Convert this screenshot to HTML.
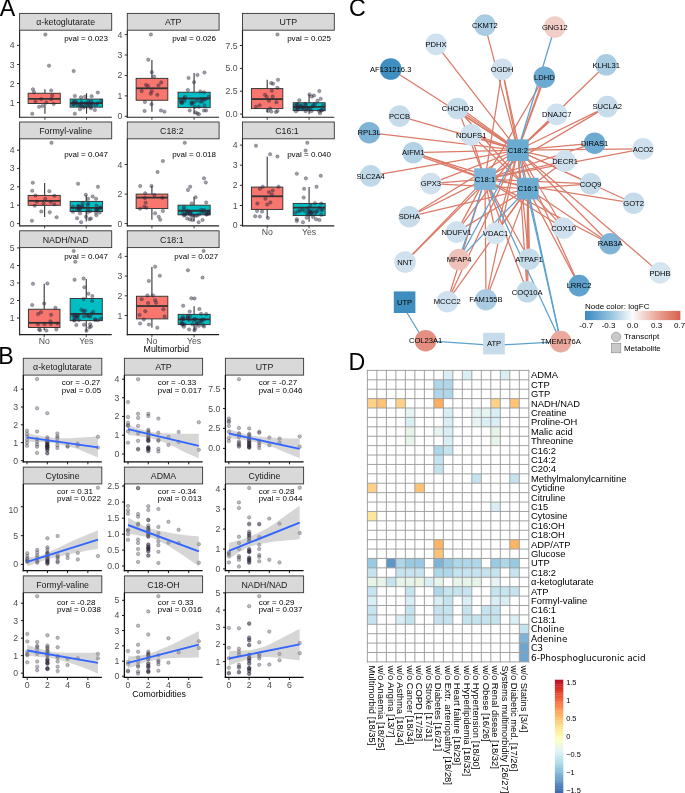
<!DOCTYPE html>
<html lang="en"><head><meta charset="utf-8"><title>Figure</title>
<style>html,body{margin:0;padding:0;background:#fff}svg{display:block}svg text{font-family:"Liberation Sans", Arial, Helvetica, sans-serif}svg .dj,svg .dj text{font-family:"DejaVu Sans","Liberation Sans",sans-serif}</style></head><body>
<svg width="685" height="793" viewBox="0 0 685 793">
<rect x="0" y="0" width="685" height="793" fill="#ffffff" stroke="none" stroke-width="1"/>
<line x1="44.93" y1="89.31" x2="44.93" y2="93.26" stroke="#333" stroke-width="1.1"/>
<line x1="44.93" y1="103.47" x2="44.93" y2="113.69" stroke="#333" stroke-width="1.1"/>
<rect x="28.14" y="93.26" width="32.12" height="10.22" fill="#F8766D" stroke="#333" stroke-width="0.95"/>
<line x1="28.14" y1="98.8" x2="60.26" y2="98.8" stroke="#333" stroke-width="1.8"/>
<line x1="86.53" y1="93.26" x2="86.53" y2="99.09" stroke="#333" stroke-width="1.1"/>
<line x1="86.53" y1="107.12" x2="86.53" y2="113.69" stroke="#333" stroke-width="1.1"/>
<rect x="70.18" y="99.09" width="32.41" height="8.03" fill="#00BFC4" stroke="#333" stroke-width="0.95"/>
<line x1="70.18" y1="103.18" x2="102.59" y2="103.18" stroke="#333" stroke-width="1.8"/>
<g fill="#2b2339" fill-opacity="0.45" stroke="#2b2339" stroke-opacity="0.55" stroke-width="0.45">
<circle cx="45.36" cy="34.57" r="1.75"/>
<circle cx="49.01" cy="65.66" r="1.75"/>
<circle cx="32.96" cy="89.31" r="1.75"/>
<circle cx="33.98" cy="92.23" r="1.75"/>
<circle cx="51.2" cy="90.48" r="1.75"/>
<circle cx="52.23" cy="95.45" r="1.75"/>
<circle cx="41.28" cy="99.09" r="1.75"/>
<circle cx="51.2" cy="99.09" r="1.75"/>
<circle cx="35.44" cy="101.72" r="1.75"/>
<circle cx="46.39" cy="102.45" r="1.75"/>
<circle cx="53.69" cy="103.91" r="1.75"/>
<circle cx="39.09" cy="106.83" r="1.75"/>
<circle cx="42.45" cy="106.1" r="1.75"/>
<circle cx="32.23" cy="113.69" r="1.75"/>
<circle cx="73.69" cy="71.07" r="1.75"/>
<circle cx="97.77" cy="92.53" r="1.75"/>
<circle cx="74.85" cy="95.88" r="1.75"/>
<circle cx="91.64" cy="96.18" r="1.75"/>
<circle cx="80.99" cy="97.34" r="1.75"/>
<circle cx="85.07" cy="96.61" r="1.75"/>
<circle cx="74.85" cy="113.69" r="1.75"/>
<circle cx="79.96" cy="109.31" r="1.75"/>
<circle cx="94.85" cy="110.04" r="1.75"/>
<circle cx="83.61" cy="107.56" r="1.75"/>
<circle cx="90.91" cy="108.29" r="1.75"/>
<circle cx="81.63" cy="102.23" r="1.75"/>
<circle cx="91.41" cy="101.4" r="1.75"/>
<circle cx="87.97" cy="103.73" r="1.75"/>
<circle cx="73.67" cy="104.48" r="1.75"/>
<circle cx="73.06" cy="104.11" r="1.75"/>
<circle cx="74.02" cy="101.62" r="1.75"/>
<circle cx="84.64" cy="105.98" r="1.75"/>
<circle cx="75.64" cy="102.81" r="1.75"/>
<circle cx="90.71" cy="106.89" r="1.75"/>
<circle cx="89.21" cy="103.91" r="1.75"/>
<circle cx="101.15" cy="101.03" r="1.75"/>
<circle cx="97.63" cy="103.27" r="1.75"/>
<circle cx="76.25" cy="101.92" r="1.75"/>
<circle cx="81.17" cy="105.92" r="1.75"/>
<circle cx="77.34" cy="104.83" r="1.75"/>
<circle cx="91.06" cy="103.77" r="1.75"/>
<circle cx="88.33" cy="101.27" r="1.75"/>
<circle cx="73.72" cy="102.68" r="1.75"/>
<circle cx="92.3" cy="104.07" r="1.75"/>
<circle cx="81.34" cy="104.85" r="1.75"/>
<circle cx="85.5" cy="103.33" r="1.75"/>
<circle cx="95.71" cy="105.34" r="1.75"/>
<circle cx="79.24" cy="104.8" r="1.75"/>
<circle cx="87.65" cy="106.29" r="1.75"/>
</g>
<rect x="19.6" y="13.4" width="92.1" height="16.8" fill="#d9d9d9" stroke="#333333" stroke-width="0.9"/>
<text x="65.65" y="25.47" font-size="8.8" fill="#1a1a1a" text-anchor="middle">α-ketoglutarate</text>
<line x1="19.6" y1="30.2" x2="19.6" y2="117.75" stroke="#222" stroke-width="1.15"/>
<line x1="19.05" y1="117.2" x2="111.7" y2="117.2" stroke="#222" stroke-width="1.15"/>
<line x1="17" y1="45.4" x2="19.6" y2="45.4" stroke="#2b2b2b" stroke-width="0.95"/>
<text x="14.7" y="48.4" font-size="8.7" fill="#4d4d4d" text-anchor="end">4</text>
<line x1="17" y1="64.5" x2="19.6" y2="64.5" stroke="#2b2b2b" stroke-width="0.95"/>
<text x="14.7" y="67.5" font-size="8.7" fill="#4d4d4d" text-anchor="end">3</text>
<line x1="17" y1="83.5" x2="19.6" y2="83.5" stroke="#2b2b2b" stroke-width="0.95"/>
<text x="14.7" y="86.5" font-size="8.7" fill="#4d4d4d" text-anchor="end">2</text>
<line x1="17" y1="102.5" x2="19.6" y2="102.5" stroke="#2b2b2b" stroke-width="0.95"/>
<text x="14.7" y="105.5" font-size="8.7" fill="#4d4d4d" text-anchor="end">1</text>
<line x1="44.93" y1="117.2" x2="44.93" y2="119.8" stroke="#2b2b2b" stroke-width="0.9"/>
<line x1="86.53" y1="117.2" x2="86.53" y2="119.8" stroke="#2b2b2b" stroke-width="0.9"/>
<text x="107.99" y="41.25" font-size="8.0" fill="#000" text-anchor="end">pval = 0.023</text>
<line x1="151.91" y1="60.12" x2="151.91" y2="78.36" stroke="#333" stroke-width="1.1"/>
<line x1="151.91" y1="100.26" x2="151.91" y2="111.65" stroke="#333" stroke-width="1.1"/>
<rect x="136.14" y="78.36" width="31.68" height="21.9" fill="#F8766D" stroke="#333" stroke-width="0.95"/>
<line x1="136.14" y1="88.29" x2="167.82" y2="88.29" stroke="#333" stroke-width="1.8"/>
<line x1="194.09" y1="72.96" x2="194.09" y2="92.23" stroke="#333" stroke-width="1.1"/>
<line x1="194.09" y1="107.56" x2="194.09" y2="114.13" stroke="#333" stroke-width="1.1"/>
<rect x="178.04" y="92.23" width="32.12" height="15.33" fill="#00BFC4" stroke="#333" stroke-width="0.95"/>
<line x1="178.04" y1="98.51" x2="210.15" y2="98.51" stroke="#333" stroke-width="1.8"/>
<g fill="#2b2339" fill-opacity="0.45" stroke="#2b2339" stroke-opacity="0.55" stroke-width="0.45">
<circle cx="150.88" cy="34.57" r="1.75"/>
<circle cx="148.26" cy="59.68" r="1.75"/>
<circle cx="151.76" cy="72.23" r="1.75"/>
<circle cx="154.09" cy="76.61" r="1.75"/>
<circle cx="161.25" cy="82.45" r="1.75"/>
<circle cx="146.07" cy="84.93" r="1.75"/>
<circle cx="148.11" cy="86.1" r="1.75"/>
<circle cx="158.47" cy="85.37" r="1.75"/>
<circle cx="141.69" cy="91.07" r="1.75"/>
<circle cx="151.76" cy="91.21" r="1.75"/>
<circle cx="150.74" cy="93.69" r="1.75"/>
<circle cx="157.31" cy="94.86" r="1.75"/>
<circle cx="144.9" cy="102.01" r="1.75"/>
<circle cx="151.47" cy="104.2" r="1.75"/>
<circle cx="144.61" cy="110.92" r="1.75"/>
<circle cx="160.96" cy="110.48" r="1.75"/>
<circle cx="164.46" cy="111.65" r="1.75"/>
<circle cx="204.46" cy="72.53" r="1.75"/>
<circle cx="197.45" cy="75.01" r="1.75"/>
<circle cx="188.55" cy="77.93" r="1.75"/>
<circle cx="194.09" cy="82.16" r="1.75"/>
<circle cx="187.82" cy="90.04" r="1.75"/>
<circle cx="200.37" cy="91.5" r="1.75"/>
<circle cx="204.02" cy="92.23" r="1.75"/>
<circle cx="189.72" cy="110.48" r="1.75"/>
<circle cx="204.02" cy="110.48" r="1.75"/>
<circle cx="206.21" cy="110.48" r="1.75"/>
<circle cx="195.55" cy="112.38" r="1.75"/>
<circle cx="197.45" cy="113.4" r="1.75"/>
<circle cx="198.91" cy="114.13" r="1.75"/>
<circle cx="194.97" cy="106.83" r="1.75"/>
<circle cx="201.31" cy="99.03" r="1.75"/>
<circle cx="208.56" cy="96.85" r="1.75"/>
<circle cx="192.31" cy="103.01" r="1.75"/>
<circle cx="184.62" cy="100.87" r="1.75"/>
<circle cx="181.36" cy="102.24" r="1.75"/>
<circle cx="202.33" cy="101.52" r="1.75"/>
<circle cx="205.53" cy="99.3" r="1.75"/>
<circle cx="200.32" cy="101.68" r="1.75"/>
<circle cx="196.99" cy="100.6" r="1.75"/>
<circle cx="204.51" cy="105.39" r="1.75"/>
<circle cx="193.93" cy="102.21" r="1.75"/>
<circle cx="181.98" cy="102.52" r="1.75"/>
<circle cx="198.93" cy="106.79" r="1.75"/>
<circle cx="203.98" cy="99" r="1.75"/>
<circle cx="191.38" cy="102.25" r="1.75"/>
<circle cx="180.88" cy="100.65" r="1.75"/>
<circle cx="185.08" cy="96.83" r="1.75"/>
<circle cx="181.93" cy="103.12" r="1.75"/>
<circle cx="183.96" cy="98.59" r="1.75"/>
<circle cx="191.53" cy="104.25" r="1.75"/>
</g>
<rect x="127.3" y="13.4" width="91.8" height="16.8" fill="#d9d9d9" stroke="#333333" stroke-width="0.9"/>
<text x="173.2" y="25.47" font-size="8.8" fill="#1a1a1a" text-anchor="middle">ATP</text>
<line x1="127.3" y1="30.2" x2="127.3" y2="117.75" stroke="#222" stroke-width="1.15"/>
<line x1="126.75" y1="117.2" x2="219.1" y2="117.2" stroke="#222" stroke-width="1.15"/>
<line x1="124.7" y1="34.6" x2="127.3" y2="34.6" stroke="#2b2b2b" stroke-width="0.95"/>
<text x="122.4" y="37.6" font-size="8.7" fill="#4d4d4d" text-anchor="end">4</text>
<line x1="124.7" y1="55" x2="127.3" y2="55" stroke="#2b2b2b" stroke-width="0.95"/>
<text x="122.4" y="58" font-size="8.7" fill="#4d4d4d" text-anchor="end">3</text>
<line x1="124.7" y1="75.4" x2="127.3" y2="75.4" stroke="#2b2b2b" stroke-width="0.95"/>
<text x="122.4" y="78.4" font-size="8.7" fill="#4d4d4d" text-anchor="end">2</text>
<line x1="124.7" y1="95.9" x2="127.3" y2="95.9" stroke="#2b2b2b" stroke-width="0.95"/>
<text x="122.4" y="98.9" font-size="8.7" fill="#4d4d4d" text-anchor="end">1</text>
<line x1="124.7" y1="116.3" x2="127.3" y2="116.3" stroke="#2b2b2b" stroke-width="0.95"/>
<text x="122.4" y="119.3" font-size="8.7" fill="#4d4d4d" text-anchor="end">0</text>
<line x1="151.91" y1="117.2" x2="151.91" y2="119.8" stroke="#2b2b2b" stroke-width="0.9"/>
<line x1="194.09" y1="117.2" x2="194.09" y2="119.8" stroke="#2b2b2b" stroke-width="0.9"/>
<text x="215.99" y="41.25" font-size="8.0" fill="#000" text-anchor="end">pval = 0.026</text>
<line x1="267.2" y1="79.82" x2="267.2" y2="88.58" stroke="#333" stroke-width="1.1"/>
<line x1="267.2" y1="108.58" x2="267.2" y2="111.94" stroke="#333" stroke-width="1.1"/>
<rect x="251.43" y="88.58" width="31.39" height="20" fill="#F8766D" stroke="#333" stroke-width="0.95"/>
<line x1="251.43" y1="99.09" x2="282.82" y2="99.09" stroke="#333" stroke-width="1.8"/>
<line x1="309.09" y1="94.42" x2="309.09" y2="102.74" stroke="#333" stroke-width="1.1"/>
<line x1="309.09" y1="110.63" x2="309.09" y2="114.13" stroke="#333" stroke-width="1.1"/>
<rect x="293.18" y="102.74" width="31.97" height="7.88" fill="#00BFC4" stroke="#333" stroke-width="0.95"/>
<line x1="293.18" y1="106.83" x2="325.15" y2="106.83" stroke="#333" stroke-width="1.8"/>
<g fill="#2b2339" fill-opacity="0.45" stroke="#2b2339" stroke-opacity="0.55" stroke-width="0.45">
<circle cx="277.42" cy="34.57" r="1.75"/>
<circle cx="278" cy="79.82" r="1.75"/>
<circle cx="271.14" cy="83.04" r="1.75"/>
<circle cx="273.04" cy="83.77" r="1.75"/>
<circle cx="277.42" cy="87.85" r="1.75"/>
<circle cx="271.87" cy="90.77" r="1.75"/>
<circle cx="265.01" cy="94.86" r="1.75"/>
<circle cx="266.76" cy="96.91" r="1.75"/>
<circle cx="272.6" cy="96.61" r="1.75"/>
<circle cx="268.95" cy="100.7" r="1.75"/>
<circle cx="276.39" cy="102.16" r="1.75"/>
<circle cx="259.61" cy="105.37" r="1.75"/>
<circle cx="255.96" cy="106.83" r="1.75"/>
<circle cx="270.12" cy="108.58" r="1.75"/>
<circle cx="267.93" cy="110.92" r="1.75"/>
<circle cx="271.28" cy="111.5" r="1.75"/>
<circle cx="275.96" cy="111.94" r="1.75"/>
<circle cx="277.42" cy="110.92" r="1.75"/>
<circle cx="319.31" cy="91.07" r="1.75"/>
<circle cx="309.53" cy="94.42" r="1.75"/>
<circle cx="313.91" cy="95.59" r="1.75"/>
<circle cx="311.72" cy="96.61" r="1.75"/>
<circle cx="320.77" cy="98.8" r="1.75"/>
<circle cx="299.31" cy="100.26" r="1.75"/>
<circle cx="317.56" cy="100.7" r="1.75"/>
<circle cx="297.58" cy="108.12" r="1.75"/>
<circle cx="311.27" cy="111.29" r="1.75"/>
<circle cx="319.15" cy="111.09" r="1.75"/>
<circle cx="303.36" cy="107.87" r="1.75"/>
<circle cx="305.7" cy="111.3" r="1.75"/>
<circle cx="323.19" cy="105.43" r="1.75"/>
<circle cx="300.37" cy="106.32" r="1.75"/>
<circle cx="302.04" cy="108.37" r="1.75"/>
<circle cx="312.43" cy="106.62" r="1.75"/>
<circle cx="295.35" cy="107.9" r="1.75"/>
<circle cx="306.01" cy="108.91" r="1.75"/>
<circle cx="323.05" cy="109.69" r="1.75"/>
<circle cx="310.28" cy="109.22" r="1.75"/>
<circle cx="314.97" cy="103.94" r="1.75"/>
<circle cx="321.49" cy="110.34" r="1.75"/>
<circle cx="320.76" cy="110.48" r="1.75"/>
<circle cx="306.68" cy="107.75" r="1.75"/>
<circle cx="298.25" cy="109.33" r="1.75"/>
<circle cx="297.04" cy="104.2" r="1.75"/>
<circle cx="301.32" cy="105.57" r="1.75"/>
<circle cx="305.15" cy="103.91" r="1.75"/>
<circle cx="295.23" cy="105.43" r="1.75"/>
<circle cx="298.19" cy="107.48" r="1.75"/>
<circle cx="295.97" cy="111.19" r="1.75"/>
<circle cx="313.16" cy="105.4" r="1.75"/>
<circle cx="302.59" cy="107.35" r="1.75"/>
<circle cx="305.86" cy="105.07" r="1.75"/>
<circle cx="320.01" cy="113.22" r="1.75"/>
<circle cx="308.83" cy="108.36" r="1.75"/>
<circle cx="297.73" cy="104.77" r="1.75"/>
</g>
<rect x="242.5" y="13.4" width="91.8" height="16.8" fill="#d9d9d9" stroke="#333333" stroke-width="0.9"/>
<text x="288.4" y="25.47" font-size="8.8" fill="#1a1a1a" text-anchor="middle">UTP</text>
<line x1="242.5" y1="30.2" x2="242.5" y2="117.75" stroke="#222" stroke-width="1.15"/>
<line x1="241.95" y1="117.2" x2="334.3" y2="117.2" stroke="#222" stroke-width="1.15"/>
<line x1="239.9" y1="45.5" x2="242.5" y2="45.5" stroke="#2b2b2b" stroke-width="0.95"/>
<text x="237.6" y="48.5" font-size="8.7" fill="#4d4d4d" text-anchor="end">7.5</text>
<line x1="239.9" y1="68.4" x2="242.5" y2="68.4" stroke="#2b2b2b" stroke-width="0.95"/>
<text x="237.6" y="71.4" font-size="8.7" fill="#4d4d4d" text-anchor="end">5.0</text>
<line x1="239.9" y1="91.2" x2="242.5" y2="91.2" stroke="#2b2b2b" stroke-width="0.95"/>
<text x="237.6" y="94.2" font-size="8.7" fill="#4d4d4d" text-anchor="end">2.5</text>
<line x1="239.9" y1="114.1" x2="242.5" y2="114.1" stroke="#2b2b2b" stroke-width="0.95"/>
<text x="237.6" y="117.1" font-size="8.7" fill="#4d4d4d" text-anchor="end">0.0</text>
<line x1="267.2" y1="117.2" x2="267.2" y2="119.8" stroke="#2b2b2b" stroke-width="0.9"/>
<line x1="309.09" y1="117.2" x2="309.09" y2="119.8" stroke="#2b2b2b" stroke-width="0.9"/>
<text x="330.99" y="41.25" font-size="8.0" fill="#000" text-anchor="end">pval = 0.025</text>
<line x1="44.64" y1="183.01" x2="44.64" y2="195.42" stroke="#333" stroke-width="1.1"/>
<line x1="44.64" y1="205.34" x2="44.64" y2="217.02" stroke="#333" stroke-width="1.1"/>
<rect x="28.14" y="195.42" width="32.12" height="9.93" fill="#F8766D" stroke="#333" stroke-width="0.95"/>
<line x1="28.14" y1="200.96" x2="60.26" y2="200.96" stroke="#333" stroke-width="1.8"/>
<line x1="86.24" y1="195.12" x2="86.24" y2="201.4" stroke="#333" stroke-width="1.1"/>
<line x1="86.24" y1="211.47" x2="86.24" y2="221.4" stroke="#333" stroke-width="1.1"/>
<rect x="70.18" y="201.4" width="32.41" height="10.07" fill="#00BFC4" stroke="#333" stroke-width="0.95"/>
<line x1="70.18" y1="207.82" x2="102.59" y2="207.82" stroke="#333" stroke-width="1.8"/>
<g fill="#2b2339" fill-opacity="0.45" stroke="#2b2339" stroke-opacity="0.55" stroke-width="0.45">
<circle cx="51.5" cy="142.86" r="1.75"/>
<circle cx="32.81" cy="182.72" r="1.75"/>
<circle cx="32.23" cy="190.74" r="1.75"/>
<circle cx="49.31" cy="191.18" r="1.75"/>
<circle cx="35.44" cy="195.42" r="1.75"/>
<circle cx="54.42" cy="195.85" r="1.75"/>
<circle cx="45.22" cy="198.77" r="1.75"/>
<circle cx="36.9" cy="201.69" r="1.75"/>
<circle cx="43.47" cy="203.45" r="1.75"/>
<circle cx="50.77" cy="201.99" r="1.75"/>
<circle cx="54.42" cy="204.32" r="1.75"/>
<circle cx="34.71" cy="205.78" r="1.75"/>
<circle cx="41.28" cy="211.47" r="1.75"/>
<circle cx="49.74" cy="212.35" r="1.75"/>
<circle cx="56.61" cy="217.31" r="1.75"/>
<circle cx="31.93" cy="220.67" r="1.75"/>
<circle cx="78.07" cy="183.74" r="1.75"/>
<circle cx="97.92" cy="186.8" r="1.75"/>
<circle cx="85.8" cy="194.83" r="1.75"/>
<circle cx="92.66" cy="196.58" r="1.75"/>
<circle cx="87.99" cy="198.77" r="1.75"/>
<circle cx="96.02" cy="198.77" r="1.75"/>
<circle cx="81.13" cy="222.13" r="1.75"/>
<circle cx="77.04" cy="218.19" r="1.75"/>
<circle cx="89.45" cy="219.21" r="1.75"/>
<circle cx="90.91" cy="218.48" r="1.75"/>
<circle cx="96.31" cy="215.27" r="1.75"/>
<circle cx="86.09" cy="216.73" r="1.75"/>
<circle cx="79.96" cy="213.37" r="1.75"/>
<circle cx="82.23" cy="206.63" r="1.75"/>
<circle cx="96.43" cy="205.61" r="1.75"/>
<circle cx="72.9" cy="211.84" r="1.75"/>
<circle cx="87.65" cy="205.44" r="1.75"/>
<circle cx="88.09" cy="203.47" r="1.75"/>
<circle cx="87.65" cy="212.35" r="1.75"/>
<circle cx="97.43" cy="209.55" r="1.75"/>
<circle cx="79.85" cy="207.45" r="1.75"/>
<circle cx="77.1" cy="210.06" r="1.75"/>
<circle cx="87.78" cy="210.11" r="1.75"/>
<circle cx="81.85" cy="206.25" r="1.75"/>
<circle cx="95.92" cy="212.52" r="1.75"/>
<circle cx="97.12" cy="210.31" r="1.75"/>
<circle cx="96.12" cy="209.83" r="1.75"/>
<circle cx="78.85" cy="208.48" r="1.75"/>
<circle cx="82.61" cy="203.52" r="1.75"/>
<circle cx="73.04" cy="206.76" r="1.75"/>
<circle cx="79.79" cy="209.52" r="1.75"/>
<circle cx="100.15" cy="208.02" r="1.75"/>
<circle cx="99.58" cy="212.61" r="1.75"/>
<circle cx="100.11" cy="207.44" r="1.75"/>
<circle cx="78.66" cy="206.28" r="1.75"/>
<circle cx="77.97" cy="206.07" r="1.75"/>
<circle cx="90.45" cy="211.18" r="1.75"/>
</g>
<rect x="19.6" y="122" width="92.1" height="16.8" fill="#d9d9d9" stroke="#333333" stroke-width="0.9"/>
<text x="65.65" y="134.07" font-size="8.8" fill="#1a1a1a" text-anchor="middle">Formyl-valine</text>
<line x1="19.6" y1="138.8" x2="19.6" y2="226.35" stroke="#222" stroke-width="1.15"/>
<line x1="19.05" y1="225.8" x2="111.7" y2="225.8" stroke="#222" stroke-width="1.15"/>
<line x1="17" y1="150.2" x2="19.6" y2="150.2" stroke="#2b2b2b" stroke-width="0.95"/>
<text x="14.7" y="153.2" font-size="8.7" fill="#4d4d4d" text-anchor="end">4</text>
<line x1="17" y1="168.4" x2="19.6" y2="168.4" stroke="#2b2b2b" stroke-width="0.95"/>
<text x="14.7" y="171.4" font-size="8.7" fill="#4d4d4d" text-anchor="end">3</text>
<line x1="17" y1="186.8" x2="19.6" y2="186.8" stroke="#2b2b2b" stroke-width="0.95"/>
<text x="14.7" y="189.8" font-size="8.7" fill="#4d4d4d" text-anchor="end">2</text>
<line x1="17" y1="205.2" x2="19.6" y2="205.2" stroke="#2b2b2b" stroke-width="0.95"/>
<text x="14.7" y="208.2" font-size="8.7" fill="#4d4d4d" text-anchor="end">1</text>
<line x1="17" y1="223.6" x2="19.6" y2="223.6" stroke="#2b2b2b" stroke-width="0.95"/>
<text x="14.7" y="226.6" font-size="8.7" fill="#4d4d4d" text-anchor="end">0</text>
<line x1="44.64" y1="225.8" x2="44.64" y2="228.4" stroke="#2b2b2b" stroke-width="0.9"/>
<line x1="86.24" y1="225.8" x2="86.24" y2="228.4" stroke="#2b2b2b" stroke-width="0.9"/>
<text x="107.99" y="157.28" font-size="8.0" fill="#000" text-anchor="end">pval = 0.047</text>
<line x1="151.91" y1="186.07" x2="151.91" y2="194.1" stroke="#333" stroke-width="1.1"/>
<line x1="151.91" y1="208.55" x2="151.91" y2="219.65" stroke="#333" stroke-width="1.1"/>
<rect x="136.14" y="194.1" width="31.68" height="14.45" fill="#F8766D" stroke="#333" stroke-width="0.95"/>
<line x1="136.14" y1="197.61" x2="167.82" y2="197.61" stroke="#333" stroke-width="1.8"/>
<line x1="194.09" y1="197.31" x2="194.09" y2="205.2" stroke="#333" stroke-width="1.1"/>
<line x1="194.09" y1="214.83" x2="194.09" y2="221.4" stroke="#333" stroke-width="1.1"/>
<rect x="178.04" y="205.2" width="32.12" height="9.64" fill="#00BFC4" stroke="#333" stroke-width="0.95"/>
<line x1="178.04" y1="210.74" x2="210.15" y2="210.74" stroke="#333" stroke-width="1.8"/>
<g fill="#2b2339" fill-opacity="0.45" stroke="#2b2339" stroke-opacity="0.55" stroke-width="0.45">
<circle cx="162.85" cy="161.11" r="1.75"/>
<circle cx="157.6" cy="172.06" r="1.75"/>
<circle cx="140.23" cy="186.07" r="1.75"/>
<circle cx="151.47" cy="185.93" r="1.75"/>
<circle cx="145.19" cy="193.37" r="1.75"/>
<circle cx="154.39" cy="195.12" r="1.75"/>
<circle cx="144.9" cy="198.04" r="1.75"/>
<circle cx="162.42" cy="197.75" r="1.75"/>
<circle cx="145.63" cy="202.72" r="1.75"/>
<circle cx="144.17" cy="206.8" r="1.75"/>
<circle cx="146.36" cy="207.82" r="1.75"/>
<circle cx="140.08" cy="208.7" r="1.75"/>
<circle cx="162.85" cy="210.89" r="1.75"/>
<circle cx="155.12" cy="213.37" r="1.75"/>
<circle cx="158.77" cy="216.73" r="1.75"/>
<circle cx="160.23" cy="219.65" r="1.75"/>
<circle cx="184.75" cy="142.86" r="1.75"/>
<circle cx="204.02" cy="178.34" r="1.75"/>
<circle cx="205.77" cy="182.42" r="1.75"/>
<circle cx="190.15" cy="186.66" r="1.75"/>
<circle cx="187.96" cy="190.01" r="1.75"/>
<circle cx="195.55" cy="197.31" r="1.75"/>
<circle cx="206.21" cy="202.42" r="1.75"/>
<circle cx="191.61" cy="203.45" r="1.75"/>
<circle cx="198.62" cy="222.13" r="1.75"/>
<circle cx="202.56" cy="219.94" r="1.75"/>
<circle cx="187.23" cy="218.48" r="1.75"/>
<circle cx="190.15" cy="219.5" r="1.75"/>
<circle cx="192.34" cy="219.94" r="1.75"/>
<circle cx="204.52" cy="212.32" r="1.75"/>
<circle cx="199.1" cy="214.46" r="1.75"/>
<circle cx="182.68" cy="213.46" r="1.75"/>
<circle cx="206.52" cy="214.32" r="1.75"/>
<circle cx="201.91" cy="212.31" r="1.75"/>
<circle cx="185.39" cy="214.37" r="1.75"/>
<circle cx="189.84" cy="214.47" r="1.75"/>
<circle cx="208.31" cy="211.72" r="1.75"/>
<circle cx="191.83" cy="216.05" r="1.75"/>
<circle cx="201.18" cy="209.67" r="1.75"/>
<circle cx="183.9" cy="209.45" r="1.75"/>
<circle cx="206.38" cy="214.51" r="1.75"/>
<circle cx="184.45" cy="214.69" r="1.75"/>
<circle cx="208.56" cy="213.44" r="1.75"/>
<circle cx="190.35" cy="212.77" r="1.75"/>
<circle cx="184.01" cy="206.91" r="1.75"/>
<circle cx="208.29" cy="213.4" r="1.75"/>
<circle cx="195.45" cy="215.86" r="1.75"/>
<circle cx="192.77" cy="215.12" r="1.75"/>
<circle cx="204.11" cy="210.12" r="1.75"/>
<circle cx="187.51" cy="210.89" r="1.75"/>
<circle cx="187.18" cy="213.01" r="1.75"/>
<circle cx="187.72" cy="211.89" r="1.75"/>
<circle cx="184.01" cy="215.54" r="1.75"/>
<circle cx="190.45" cy="212.17" r="1.75"/>
<circle cx="197.09" cy="215.47" r="1.75"/>
</g>
<rect x="127.3" y="122" width="91.8" height="16.8" fill="#d9d9d9" stroke="#333333" stroke-width="0.9"/>
<text x="171.8" y="134.07" font-size="8.8" fill="#1a1a1a" text-anchor="middle">C18:2</text>
<line x1="127.3" y1="138.8" x2="127.3" y2="226.35" stroke="#222" stroke-width="1.15"/>
<line x1="126.75" y1="225.8" x2="219.1" y2="225.8" stroke="#222" stroke-width="1.15"/>
<line x1="124.7" y1="164.5" x2="127.3" y2="164.5" stroke="#2b2b2b" stroke-width="0.95"/>
<text x="122.4" y="167.5" font-size="8.7" fill="#4d4d4d" text-anchor="end">4</text>
<line x1="124.7" y1="194.1" x2="127.3" y2="194.1" stroke="#2b2b2b" stroke-width="0.95"/>
<text x="122.4" y="197.1" font-size="8.7" fill="#4d4d4d" text-anchor="end">2</text>
<line x1="124.7" y1="223.6" x2="127.3" y2="223.6" stroke="#2b2b2b" stroke-width="0.95"/>
<text x="122.4" y="226.6" font-size="8.7" fill="#4d4d4d" text-anchor="end">0</text>
<line x1="151.91" y1="225.8" x2="151.91" y2="228.4" stroke="#2b2b2b" stroke-width="0.9"/>
<line x1="194.09" y1="225.8" x2="194.09" y2="228.4" stroke="#2b2b2b" stroke-width="0.9"/>
<text x="215.99" y="157.28" font-size="8.0" fill="#000" text-anchor="end">pval = 0.018</text>
<line x1="267.2" y1="156.44" x2="267.2" y2="187.09" stroke="#333" stroke-width="1.1"/>
<line x1="267.2" y1="209.43" x2="267.2" y2="217.75" stroke="#333" stroke-width="1.1"/>
<rect x="251.43" y="187.09" width="31.39" height="22.34" fill="#F8766D" stroke="#333" stroke-width="0.95"/>
<line x1="251.43" y1="196.29" x2="282.82" y2="196.29" stroke="#333" stroke-width="1.8"/>
<line x1="309.09" y1="187.09" x2="309.09" y2="203.45" stroke="#333" stroke-width="1.1"/>
<line x1="309.09" y1="215.56" x2="309.09" y2="221.69" stroke="#333" stroke-width="1.1"/>
<rect x="293.18" y="203.45" width="31.97" height="12.12" fill="#00BFC4" stroke="#333" stroke-width="0.95"/>
<line x1="293.18" y1="207.53" x2="325.15" y2="207.53" stroke="#333" stroke-width="1.8"/>
<g fill="#2b2339" fill-opacity="0.45" stroke="#2b2339" stroke-opacity="0.55" stroke-width="0.45">
<circle cx="255.96" cy="145.78" r="1.75"/>
<circle cx="270.12" cy="154.25" r="1.75"/>
<circle cx="277.42" cy="156.44" r="1.75"/>
<circle cx="262.82" cy="186.66" r="1.75"/>
<circle cx="278.58" cy="186.66" r="1.75"/>
<circle cx="259.9" cy="188.85" r="1.75"/>
<circle cx="272.74" cy="190.45" r="1.75"/>
<circle cx="268.95" cy="192.2" r="1.75"/>
<circle cx="271.87" cy="194.39" r="1.75"/>
<circle cx="265.45" cy="198.77" r="1.75"/>
<circle cx="270.41" cy="202.42" r="1.75"/>
<circle cx="257.42" cy="203.59" r="1.75"/>
<circle cx="267.2" cy="204.61" r="1.75"/>
<circle cx="256.98" cy="210.89" r="1.75"/>
<circle cx="262.09" cy="211.62" r="1.75"/>
<circle cx="255.23" cy="216.29" r="1.75"/>
<circle cx="259.9" cy="216.58" r="1.75"/>
<circle cx="267.93" cy="218.04" r="1.75"/>
<circle cx="307.34" cy="142.86" r="1.75"/>
<circle cx="305.59" cy="150.6" r="1.75"/>
<circle cx="296.83" cy="173.66" r="1.75"/>
<circle cx="320.77" cy="175.71" r="1.75"/>
<circle cx="305.88" cy="178.34" r="1.75"/>
<circle cx="316.54" cy="186.8" r="1.75"/>
<circle cx="304.13" cy="188.85" r="1.75"/>
<circle cx="303.69" cy="197.61" r="1.75"/>
<circle cx="314.93" cy="203.15" r="1.75"/>
<circle cx="321.21" cy="203.45" r="1.75"/>
<circle cx="296.83" cy="219.21" r="1.75"/>
<circle cx="296.83" cy="221.11" r="1.75"/>
<circle cx="302.96" cy="222.13" r="1.75"/>
<circle cx="316.1" cy="219.21" r="1.75"/>
<circle cx="319.46" cy="219.94" r="1.75"/>
<circle cx="313.18" cy="217.02" r="1.75"/>
<circle cx="306.61" cy="217.75" r="1.75"/>
<circle cx="321.21" cy="214.83" r="1.75"/>
<circle cx="307.38" cy="213.95" r="1.75"/>
<circle cx="309.73" cy="211.05" r="1.75"/>
<circle cx="310.36" cy="205.58" r="1.75"/>
<circle cx="307.95" cy="208.27" r="1.75"/>
<circle cx="295.34" cy="212.79" r="1.75"/>
<circle cx="300.21" cy="210.67" r="1.75"/>
<circle cx="316.19" cy="211.21" r="1.75"/>
<circle cx="304.65" cy="210.97" r="1.75"/>
<circle cx="311.28" cy="212.68" r="1.75"/>
<circle cx="298.29" cy="211.23" r="1.75"/>
<circle cx="302.41" cy="209.18" r="1.75"/>
<circle cx="317.55" cy="210.9" r="1.75"/>
<circle cx="311.46" cy="212.5" r="1.75"/>
<circle cx="321.6" cy="210.47" r="1.75"/>
<circle cx="312.93" cy="210.89" r="1.75"/>
<circle cx="310.03" cy="212.04" r="1.75"/>
<circle cx="308.3" cy="211.06" r="1.75"/>
<circle cx="309.04" cy="214.27" r="1.75"/>
<circle cx="315.44" cy="213.49" r="1.75"/>
<circle cx="322.46" cy="209.03" r="1.75"/>
<circle cx="311.4" cy="214.3" r="1.75"/>
<circle cx="319.51" cy="207.74" r="1.75"/>
</g>
<rect x="242.5" y="122" width="91.8" height="16.8" fill="#d9d9d9" stroke="#333333" stroke-width="0.9"/>
<text x="287" y="134.07" font-size="8.8" fill="#1a1a1a" text-anchor="middle">C16:1</text>
<line x1="242.5" y1="138.8" x2="242.5" y2="226.35" stroke="#222" stroke-width="1.15"/>
<line x1="241.95" y1="225.8" x2="334.3" y2="225.8" stroke="#222" stroke-width="1.15"/>
<line x1="239.9" y1="145.1" x2="242.5" y2="145.1" stroke="#2b2b2b" stroke-width="0.95"/>
<text x="237.6" y="148.1" font-size="8.7" fill="#4d4d4d" text-anchor="end">4</text>
<line x1="239.9" y1="165.2" x2="242.5" y2="165.2" stroke="#2b2b2b" stroke-width="0.95"/>
<text x="237.6" y="168.2" font-size="8.7" fill="#4d4d4d" text-anchor="end">3</text>
<line x1="239.9" y1="185.3" x2="242.5" y2="185.3" stroke="#2b2b2b" stroke-width="0.95"/>
<text x="237.6" y="188.3" font-size="8.7" fill="#4d4d4d" text-anchor="end">2</text>
<line x1="239.9" y1="205.5" x2="242.5" y2="205.5" stroke="#2b2b2b" stroke-width="0.95"/>
<text x="237.6" y="208.5" font-size="8.7" fill="#4d4d4d" text-anchor="end">1</text>
<line x1="239.9" y1="225.3" x2="242.5" y2="225.3" stroke="#2b2b2b" stroke-width="0.95"/>
<text x="237.6" y="228.3" font-size="8.7" fill="#4d4d4d" text-anchor="end">0</text>
<line x1="267.2" y1="225.8" x2="267.2" y2="228.4" stroke="#2b2b2b" stroke-width="0.9"/>
<text x="267.2" y="235.2" font-size="8.7" fill="#4d4d4d" text-anchor="middle">No</text>
<line x1="309.09" y1="225.8" x2="309.09" y2="228.4" stroke="#2b2b2b" stroke-width="0.9"/>
<text x="309.09" y="235.2" font-size="8.7" fill="#4d4d4d" text-anchor="middle">Yes</text>
<text x="330.99" y="157.28" font-size="8.0" fill="#000" text-anchor="end">pval = 0.040</text>
<line x1="44.2" y1="283.71" x2="44.2" y2="309.26" stroke="#333" stroke-width="1.1"/>
<line x1="44.2" y1="327.5" x2="44.2" y2="330.13" stroke="#333" stroke-width="1.1"/>
<rect x="28.43" y="309.26" width="31.53" height="18.25" fill="#F8766D" stroke="#333" stroke-width="0.95"/>
<line x1="28.43" y1="322.83" x2="59.96" y2="322.83" stroke="#333" stroke-width="1.8"/>
<line x1="86.24" y1="279.04" x2="86.24" y2="298.45" stroke="#333" stroke-width="1.1"/>
<line x1="86.24" y1="320.64" x2="86.24" y2="331.59" stroke="#333" stroke-width="1.1"/>
<rect x="70.18" y="298.45" width="32.12" height="22.19" fill="#00BFC4" stroke="#333" stroke-width="0.95"/>
<line x1="70.18" y1="313.78" x2="102.3" y2="313.78" stroke="#333" stroke-width="1.8"/>
<g fill="#2b2339" fill-opacity="0.45" stroke="#2b2339" stroke-opacity="0.55" stroke-width="0.45">
<circle cx="32.96" cy="283.85" r="1.75"/>
<circle cx="47.41" cy="283.42" r="1.75"/>
<circle cx="32.23" cy="305.02" r="1.75"/>
<circle cx="44.2" cy="303.56" r="1.75"/>
<circle cx="55.44" cy="307.8" r="1.75"/>
<circle cx="40.99" cy="312.32" r="1.75"/>
<circle cx="38.07" cy="314.07" r="1.75"/>
<circle cx="51.06" cy="314.8" r="1.75"/>
<circle cx="50.47" cy="321.37" r="1.75"/>
<circle cx="37.92" cy="324.29" r="1.75"/>
<circle cx="44.64" cy="324.29" r="1.75"/>
<circle cx="50.77" cy="324" r="1.75"/>
<circle cx="57.34" cy="323.56" r="1.75"/>
<circle cx="39.09" cy="329.4" r="1.75"/>
<circle cx="40.11" cy="330.13" r="1.75"/>
<circle cx="46.39" cy="330.42" r="1.75"/>
<circle cx="56.31" cy="329.4" r="1.75"/>
<circle cx="73.69" cy="251.01" r="1.75"/>
<circle cx="75.29" cy="261.81" r="1.75"/>
<circle cx="74.56" cy="279.77" r="1.75"/>
<circle cx="83.61" cy="278.6" r="1.75"/>
<circle cx="84.34" cy="287.36" r="1.75"/>
<circle cx="88.43" cy="293.64" r="1.75"/>
<circle cx="92.37" cy="296.12" r="1.75"/>
<circle cx="83.61" cy="299.04" r="1.75"/>
<circle cx="92.08" cy="300.93" r="1.75"/>
<circle cx="81.42" cy="309.69" r="1.75"/>
<circle cx="83.61" cy="311.15" r="1.75"/>
<circle cx="85.07" cy="310.86" r="1.75"/>
<circle cx="76.31" cy="325.02" r="1.75"/>
<circle cx="84.05" cy="324.73" r="1.75"/>
<circle cx="90.18" cy="324.29" r="1.75"/>
<circle cx="90.91" cy="326.48" r="1.75"/>
<circle cx="89.45" cy="327.5" r="1.75"/>
<circle cx="86.53" cy="330.86" r="1.75"/>
<circle cx="73.83" cy="319.91" r="1.75"/>
<circle cx="95.29" cy="319.91" r="1.75"/>
<circle cx="76.13" cy="316.22" r="1.75"/>
<circle cx="74.73" cy="314.7" r="1.75"/>
<circle cx="74.75" cy="317.56" r="1.75"/>
<circle cx="94.98" cy="319.24" r="1.75"/>
<circle cx="77.06" cy="317.84" r="1.75"/>
<circle cx="91.46" cy="313.72" r="1.75"/>
<circle cx="97.8" cy="320.18" r="1.75"/>
<circle cx="78.92" cy="319.93" r="1.75"/>
<circle cx="84" cy="316.51" r="1.75"/>
<circle cx="100.84" cy="318.66" r="1.75"/>
<circle cx="77.26" cy="316.15" r="1.75"/>
<circle cx="87.34" cy="315.5" r="1.75"/>
<circle cx="78.24" cy="315.34" r="1.75"/>
<circle cx="93.22" cy="311.64" r="1.75"/>
<circle cx="88.44" cy="316.21" r="1.75"/>
<circle cx="73.18" cy="315.44" r="1.75"/>
<circle cx="90.43" cy="316.66" r="1.75"/>
<circle cx="74.49" cy="320.56" r="1.75"/>
</g>
<rect x="19.6" y="230.8" width="92.1" height="16.8" fill="#d9d9d9" stroke="#333333" stroke-width="0.9"/>
<text x="65.65" y="242.87" font-size="8.8" fill="#1a1a1a" text-anchor="middle">NADH/NAD</text>
<line x1="19.6" y1="247.6" x2="19.6" y2="335.15" stroke="#222" stroke-width="1.15"/>
<line x1="19.05" y1="334.6" x2="111.7" y2="334.6" stroke="#222" stroke-width="1.15"/>
<line x1="17" y1="247.9" x2="19.6" y2="247.9" stroke="#2b2b2b" stroke-width="0.95"/>
<text x="14.7" y="250.9" font-size="8.7" fill="#4d4d4d" text-anchor="end">5</text>
<line x1="17" y1="265.5" x2="19.6" y2="265.5" stroke="#2b2b2b" stroke-width="0.95"/>
<text x="14.7" y="268.5" font-size="8.7" fill="#4d4d4d" text-anchor="end">4</text>
<line x1="17" y1="283" x2="19.6" y2="283" stroke="#2b2b2b" stroke-width="0.95"/>
<text x="14.7" y="286" font-size="8.7" fill="#4d4d4d" text-anchor="end">3</text>
<line x1="17" y1="300.5" x2="19.6" y2="300.5" stroke="#2b2b2b" stroke-width="0.95"/>
<text x="14.7" y="303.5" font-size="8.7" fill="#4d4d4d" text-anchor="end">2</text>
<line x1="17" y1="318" x2="19.6" y2="318" stroke="#2b2b2b" stroke-width="0.95"/>
<text x="14.7" y="321" font-size="8.7" fill="#4d4d4d" text-anchor="end">1</text>
<line x1="44.2" y1="334.6" x2="44.2" y2="337.2" stroke="#2b2b2b" stroke-width="0.9"/>
<text x="44.2" y="344" font-size="8.7" fill="#4d4d4d" text-anchor="middle">No</text>
<line x1="86.24" y1="334.6" x2="86.24" y2="337.2" stroke="#2b2b2b" stroke-width="0.9"/>
<text x="86.24" y="344" font-size="8.7" fill="#4d4d4d" text-anchor="middle">Yes</text>
<text x="107.99" y="259.44" font-size="8.0" fill="#000" text-anchor="end">pval = 0.047</text>
<line x1="151.91" y1="266.92" x2="151.91" y2="296.26" stroke="#333" stroke-width="1.1"/>
<line x1="151.91" y1="318.89" x2="151.91" y2="327.65" stroke="#333" stroke-width="1.1"/>
<rect x="136.43" y="296.26" width="31.39" height="22.63" fill="#F8766D" stroke="#333" stroke-width="0.95"/>
<line x1="136.43" y1="306.04" x2="167.82" y2="306.04" stroke="#333" stroke-width="1.8"/>
<line x1="194.09" y1="306.34" x2="194.09" y2="314.36" stroke="#333" stroke-width="1.1"/>
<line x1="194.09" y1="324.58" x2="194.09" y2="331.59" stroke="#333" stroke-width="1.1"/>
<rect x="178.18" y="314.36" width="31.97" height="10.22" fill="#00BFC4" stroke="#333" stroke-width="0.95"/>
<line x1="178.18" y1="319.47" x2="210.15" y2="319.47" stroke="#333" stroke-width="1.8"/>
<g fill="#2b2339" fill-opacity="0.45" stroke="#2b2339" stroke-opacity="0.55" stroke-width="0.45">
<circle cx="155.12" cy="266.63" r="1.75"/>
<circle cx="159.79" cy="275.68" r="1.75"/>
<circle cx="148.84" cy="280.93" r="1.75"/>
<circle cx="147.38" cy="295.39" r="1.75"/>
<circle cx="152.93" cy="295.39" r="1.75"/>
<circle cx="141.69" cy="299.18" r="1.75"/>
<circle cx="155.12" cy="300.2" r="1.75"/>
<circle cx="148.11" cy="303.12" r="1.75"/>
<circle cx="156.14" cy="302.83" r="1.75"/>
<circle cx="145.34" cy="311.15" r="1.75"/>
<circle cx="163.44" cy="309.26" r="1.75"/>
<circle cx="139.5" cy="315.09" r="1.75"/>
<circle cx="164.61" cy="316.55" r="1.75"/>
<circle cx="143.73" cy="319.62" r="1.75"/>
<circle cx="140.08" cy="323.56" r="1.75"/>
<circle cx="148.99" cy="324.58" r="1.75"/>
<circle cx="157.31" cy="327.65" r="1.75"/>
<circle cx="203.58" cy="251.01" r="1.75"/>
<circle cx="187.96" cy="270.28" r="1.75"/>
<circle cx="202.56" cy="277.58" r="1.75"/>
<circle cx="191.32" cy="298.31" r="1.75"/>
<circle cx="194.53" cy="298.45" r="1.75"/>
<circle cx="183.15" cy="305.75" r="1.75"/>
<circle cx="199.35" cy="308.96" r="1.75"/>
<circle cx="189.72" cy="311.59" r="1.75"/>
<circle cx="206.21" cy="314.07" r="1.75"/>
<circle cx="201.1" cy="313.78" r="1.75"/>
<circle cx="183.88" cy="326.77" r="1.75"/>
<circle cx="189.13" cy="329.4" r="1.75"/>
<circle cx="194.53" cy="330.13" r="1.75"/>
<circle cx="195.55" cy="327.94" r="1.75"/>
<circle cx="204.02" cy="326.48" r="1.75"/>
<circle cx="198.91" cy="325.75" r="1.75"/>
<circle cx="203.01" cy="325.28" r="1.75"/>
<circle cx="183.25" cy="319.56" r="1.75"/>
<circle cx="181.37" cy="323.12" r="1.75"/>
<circle cx="188.04" cy="318.13" r="1.75"/>
<circle cx="192.43" cy="324.35" r="1.75"/>
<circle cx="203.9" cy="319.5" r="1.75"/>
<circle cx="184.54" cy="324.45" r="1.75"/>
<circle cx="196.72" cy="322.57" r="1.75"/>
<circle cx="182.81" cy="317.02" r="1.75"/>
<circle cx="200.12" cy="320.82" r="1.75"/>
<circle cx="182.32" cy="324.71" r="1.75"/>
<circle cx="198.56" cy="323.3" r="1.75"/>
<circle cx="182.65" cy="323.77" r="1.75"/>
<circle cx="182.15" cy="323.83" r="1.75"/>
<circle cx="193.34" cy="320.18" r="1.75"/>
<circle cx="196.21" cy="324.55" r="1.75"/>
<circle cx="187.97" cy="318.12" r="1.75"/>
<circle cx="195.46" cy="319.31" r="1.75"/>
<circle cx="183.39" cy="318.51" r="1.75"/>
<circle cx="181.68" cy="318.95" r="1.75"/>
<circle cx="189.24" cy="319.9" r="1.75"/>
<circle cx="202.18" cy="319.77" r="1.75"/>
<circle cx="194.68" cy="318.7" r="1.75"/>
<circle cx="190.26" cy="316.05" r="1.75"/>
<circle cx="187.47" cy="315.95" r="1.75"/>
<circle cx="201.42" cy="321.66" r="1.75"/>
</g>
<rect x="127.3" y="230.8" width="91.8" height="16.8" fill="#d9d9d9" stroke="#333333" stroke-width="0.9"/>
<text x="171.8" y="242.87" font-size="8.8" fill="#1a1a1a" text-anchor="middle">C18:1</text>
<line x1="127.3" y1="247.6" x2="127.3" y2="335.15" stroke="#222" stroke-width="1.15"/>
<line x1="126.75" y1="334.6" x2="219.1" y2="334.6" stroke="#222" stroke-width="1.15"/>
<line x1="124.7" y1="256.4" x2="127.3" y2="256.4" stroke="#2b2b2b" stroke-width="0.95"/>
<text x="122.4" y="259.4" font-size="8.7" fill="#4d4d4d" text-anchor="end">4</text>
<line x1="124.7" y1="276.1" x2="127.3" y2="276.1" stroke="#2b2b2b" stroke-width="0.95"/>
<text x="122.4" y="279.1" font-size="8.7" fill="#4d4d4d" text-anchor="end">3</text>
<line x1="124.7" y1="295.8" x2="127.3" y2="295.8" stroke="#2b2b2b" stroke-width="0.95"/>
<text x="122.4" y="298.8" font-size="8.7" fill="#4d4d4d" text-anchor="end">2</text>
<line x1="124.7" y1="315.5" x2="127.3" y2="315.5" stroke="#2b2b2b" stroke-width="0.95"/>
<text x="122.4" y="318.5" font-size="8.7" fill="#4d4d4d" text-anchor="end">1</text>
<line x1="151.91" y1="334.6" x2="151.91" y2="337.2" stroke="#2b2b2b" stroke-width="0.9"/>
<text x="151.91" y="344" font-size="8.7" fill="#4d4d4d" text-anchor="middle">No</text>
<line x1="194.09" y1="334.6" x2="194.09" y2="337.2" stroke="#2b2b2b" stroke-width="0.9"/>
<text x="194.09" y="344" font-size="8.7" fill="#4d4d4d" text-anchor="middle">Yes</text>
<text x="218.18" y="259.44" font-size="8.0" fill="#000" text-anchor="end">pval = 0.027</text>
<text x="166.3" y="351.9" font-size="8.8" fill="#000" text-anchor="middle">Multimorbid</text>
<g fill="#2b2339" fill-opacity="0.32" stroke="#2b2339" stroke-opacity="0.5" stroke-width="0.5">
<circle cx="27" cy="430.64" r="1.75"/>
<circle cx="27" cy="433.82" r="1.75"/>
<circle cx="27" cy="436.47" r="1.75"/>
<circle cx="27" cy="439.64" r="1.75"/>
<circle cx="27" cy="442.64" r="1.75"/>
<circle cx="27" cy="445.82" r="1.75"/>
<circle cx="37.06" cy="379.12" r="1.75"/>
<circle cx="37.06" cy="408.23" r="1.75"/>
<circle cx="37.06" cy="431.52" r="1.75"/>
<circle cx="37.06" cy="439.11" r="1.75"/>
<circle cx="37.06" cy="441.76" r="1.75"/>
<circle cx="37.06" cy="444.41" r="1.75"/>
<circle cx="37.06" cy="446.7" r="1.75"/>
<circle cx="37.06" cy="452.88" r="1.75"/>
<circle cx="47.29" cy="413.17" r="1.75"/>
<circle cx="47.29" cy="437.35" r="1.75"/>
<circle cx="47.29" cy="439.11" r="1.75"/>
<circle cx="47.29" cy="440.88" r="1.75"/>
<circle cx="47.29" cy="442.64" r="1.75"/>
<circle cx="47.29" cy="444.41" r="1.75"/>
<circle cx="47.29" cy="446.17" r="1.75"/>
<circle cx="47.29" cy="447.94" r="1.75"/>
<circle cx="47.29" cy="449.7" r="1.75"/>
<circle cx="47.29" cy="452.88" r="1.75"/>
<circle cx="47.29" cy="441.76" r="1.75"/>
<circle cx="47.29" cy="445.29" r="1.75"/>
<circle cx="47.29" cy="447.05" r="1.75"/>
<circle cx="47.29" cy="442.29" r="1.75"/>
<circle cx="47.29" cy="443.17" r="1.75"/>
<circle cx="47.29" cy="444.94" r="1.75"/>
<circle cx="47.29" cy="445.82" r="1.75"/>
<circle cx="47.29" cy="446.7" r="1.75"/>
<circle cx="47.29" cy="447.58" r="1.75"/>
<circle cx="47.29" cy="448.46" r="1.75"/>
<circle cx="47.29" cy="450.23" r="1.75"/>
<circle cx="47.29" cy="453.41" r="1.75"/>
<circle cx="57.35" cy="433.47" r="1.75"/>
<circle cx="57.35" cy="436.47" r="1.75"/>
<circle cx="57.35" cy="438.23" r="1.75"/>
<circle cx="57.35" cy="441.76" r="1.75"/>
<circle cx="57.35" cy="445.29" r="1.75"/>
<circle cx="57.35" cy="447.94" r="1.75"/>
<circle cx="67.59" cy="445.82" r="1.75"/>
<circle cx="67.59" cy="446.7" r="1.75"/>
<circle cx="77.64" cy="443.52" r="1.75"/>
<circle cx="77.64" cy="445.82" r="1.75"/>
<circle cx="97.94" cy="436.82" r="1.75"/>
<circle cx="97.94" cy="447.41" r="1.75"/>
</g>
<clipPath id="cb00"><rect x="23.3" y="375.1" width="78.5" height="86.7"/></clipPath>
<path d="M27 432.94 C29.41 433.47 36.41 435.23 41.47 436.11 C46.53 436.99 51.47 437.97 57.35 438.23 C63.23 438.49 70 437.99 76.76 437.7 C83.53 437.41 94.41 436.67 97.94 436.47 L97.94 457.64 C94.41 456.17 83.53 451.11 76.76 448.82 C70 446.52 63.23 444.99 57.35 443.88 C51.47 442.76 46.53 442.47 41.47 442.11 C36.41 441.76 29.41 441.82 27 441.76 Z" fill="#999999" fill-opacity="0.4" clip-path="url(#cb00)"/>
<line x1="27" y1="437.35" x2="97.94" y2="447.41" stroke="#3366FF" stroke-width="1.9"/>
<rect x="23.3" y="358.3" width="78.5" height="16.8" fill="#d9d9d9" stroke="#3d3d3d" stroke-width="0.95"/>
<text x="62.55" y="370.37" font-size="8.8" fill="#1a1a1a" text-anchor="middle">α-ketoglutarate</text>
<line x1="23.3" y1="375.1" x2="23.3" y2="462.4" stroke="#0d0d0d" stroke-width="1.3"/>
<line x1="22.7" y1="461.8" x2="101.8" y2="461.8" stroke="#0d0d0d" stroke-width="1.3"/>
<line x1="20.9" y1="389.17" x2="23.3" y2="389.17" stroke="#1a1a1a" stroke-width="1.0"/>
<text x="18.2" y="392.17" font-size="8.7" fill="#4d4d4d" text-anchor="end">4</text>
<line x1="20.9" y1="407" x2="23.3" y2="407" stroke="#1a1a1a" stroke-width="1.0"/>
<text x="18.2" y="410" font-size="8.7" fill="#4d4d4d" text-anchor="end">3</text>
<line x1="20.9" y1="424.82" x2="23.3" y2="424.82" stroke="#1a1a1a" stroke-width="1.0"/>
<text x="18.2" y="427.82" font-size="8.7" fill="#4d4d4d" text-anchor="end">2</text>
<line x1="20.9" y1="442.64" x2="23.3" y2="442.64" stroke="#1a1a1a" stroke-width="1.0"/>
<text x="18.2" y="445.64" font-size="8.7" fill="#4d4d4d" text-anchor="end">1</text>
<line x1="20.9" y1="460.64" x2="23.3" y2="460.64" stroke="#1a1a1a" stroke-width="1.0"/>
<text x="18.2" y="463.64" font-size="8.7" fill="#4d4d4d" text-anchor="end">0</text>
<line x1="27" y1="461.8" x2="27" y2="464.3" stroke="#1a1a1a" stroke-width="1.0"/>
<line x1="47.29" y1="461.8" x2="47.29" y2="464.3" stroke="#1a1a1a" stroke-width="1.0"/>
<line x1="67.59" y1="461.8" x2="67.59" y2="464.3" stroke="#1a1a1a" stroke-width="1.0"/>
<line x1="87.88" y1="461.8" x2="87.88" y2="464.3" stroke="#1a1a1a" stroke-width="1.0"/>
<text x="61.82" y="385.2" font-size="8.0" fill="#000" text-anchor="start">cor = -0.27</text>
<text x="61.82" y="392.79" font-size="8.0" fill="#000" text-anchor="start">pval = 0.05</text>
<g fill="#2b2339" fill-opacity="0.32" stroke="#2b2339" stroke-opacity="0.5" stroke-width="0.5">
<circle cx="128" cy="402.12" r="1.75"/>
<circle cx="128" cy="417.01" r="1.75"/>
<circle cx="128" cy="422.85" r="1.75"/>
<circle cx="128" cy="425.18" r="1.75"/>
<circle cx="128" cy="425.91" r="1.75"/>
<circle cx="128" cy="431.31" r="1.75"/>
<circle cx="128" cy="442.7" r="1.75"/>
<circle cx="138.07" cy="379.2" r="1.75"/>
<circle cx="138.07" cy="413.8" r="1.75"/>
<circle cx="138.07" cy="417.88" r="1.75"/>
<circle cx="138.07" cy="425.91" r="1.75"/>
<circle cx="138.07" cy="433.5" r="1.75"/>
<circle cx="138.07" cy="440.8" r="1.75"/>
<circle cx="138.07" cy="448.83" r="1.75"/>
<circle cx="138.07" cy="449.56" r="1.75"/>
<circle cx="148.29" cy="413.8" r="1.75"/>
<circle cx="148.29" cy="415.99" r="1.75"/>
<circle cx="148.29" cy="429.85" r="1.75"/>
<circle cx="148.29" cy="431.31" r="1.75"/>
<circle cx="148.29" cy="432.77" r="1.75"/>
<circle cx="148.29" cy="435.69" r="1.75"/>
<circle cx="148.29" cy="437.88" r="1.75"/>
<circle cx="148.29" cy="439.78" r="1.75"/>
<circle cx="148.29" cy="440.8" r="1.75"/>
<circle cx="148.29" cy="447.08" r="1.75"/>
<circle cx="148.29" cy="448.1" r="1.75"/>
<circle cx="148.29" cy="448.83" r="1.75"/>
<circle cx="148.29" cy="450.73" r="1.75"/>
<circle cx="148.29" cy="433.21" r="1.75"/>
<circle cx="148.29" cy="436.13" r="1.75"/>
<circle cx="148.29" cy="438.32" r="1.75"/>
<circle cx="148.29" cy="440.22" r="1.75"/>
<circle cx="148.29" cy="441.24" r="1.75"/>
<circle cx="148.29" cy="447.52" r="1.75"/>
<circle cx="148.29" cy="448.54" r="1.75"/>
<circle cx="148.29" cy="449.27" r="1.75"/>
<circle cx="148.29" cy="451.17" r="1.75"/>
<circle cx="158.36" cy="418.61" r="1.75"/>
<circle cx="158.36" cy="432.77" r="1.75"/>
<circle cx="158.36" cy="439.78" r="1.75"/>
<circle cx="158.36" cy="440.8" r="1.75"/>
<circle cx="158.36" cy="448.83" r="1.75"/>
<circle cx="158.36" cy="451.46" r="1.75"/>
<circle cx="168.44" cy="436.86" r="1.75"/>
<circle cx="168.44" cy="444.89" r="1.75"/>
<circle cx="178.66" cy="432.04" r="1.75"/>
<circle cx="178.66" cy="441.97" r="1.75"/>
<circle cx="198.8" cy="422.26" r="1.75"/>
<circle cx="198.8" cy="449.85" r="1.75"/>
</g>
<clipPath id="cb10"><rect x="124.4" y="375.1" width="78.2" height="86.7"/></clipPath>
<path d="M128 424.74 C130.02 425.47 136.15 427.91 140.12 429.12 C144.08 430.34 146.93 431.31 151.8 432.04 C156.66 432.77 163.96 433.21 169.31 433.5 C174.67 433.8 179 433.75 183.91 433.8 C188.83 433.84 196.32 433.8 198.8 433.8 L198.8 458.32 C196.32 457.23 188.83 454.06 183.91 451.75 C179 449.44 174.67 446.64 169.31 444.45 C163.96 442.26 156.66 439.95 151.8 438.61 C146.93 437.27 144.08 437.03 140.12 436.42 C136.15 435.82 130.02 435.21 128 434.96 Z" fill="#999999" fill-opacity="0.4" clip-path="url(#cb10)"/>
<line x1="128" y1="429.12" x2="198.8" y2="445.91" stroke="#3366FF" stroke-width="1.9"/>
<rect x="124.4" y="358.3" width="78.2" height="16.8" fill="#d9d9d9" stroke="#3d3d3d" stroke-width="0.95"/>
<text x="163.5" y="370.37" font-size="8.8" fill="#1a1a1a" text-anchor="middle">ATP</text>
<line x1="124.4" y1="375.1" x2="124.4" y2="462.4" stroke="#0d0d0d" stroke-width="1.3"/>
<line x1="123.8" y1="461.8" x2="202.6" y2="461.8" stroke="#0d0d0d" stroke-width="1.3"/>
<line x1="122" y1="379.2" x2="124.4" y2="379.2" stroke="#1a1a1a" stroke-width="1.0"/>
<text x="119.3" y="382.2" font-size="8.7" fill="#4d4d4d" text-anchor="end">4</text>
<line x1="122" y1="397.74" x2="124.4" y2="397.74" stroke="#1a1a1a" stroke-width="1.0"/>
<text x="119.3" y="400.74" font-size="8.7" fill="#4d4d4d" text-anchor="end">3</text>
<line x1="122" y1="416.42" x2="124.4" y2="416.42" stroke="#1a1a1a" stroke-width="1.0"/>
<text x="119.3" y="419.42" font-size="8.7" fill="#4d4d4d" text-anchor="end">2</text>
<line x1="122" y1="435.26" x2="124.4" y2="435.26" stroke="#1a1a1a" stroke-width="1.0"/>
<text x="119.3" y="438.26" font-size="8.7" fill="#4d4d4d" text-anchor="end">1</text>
<line x1="122" y1="454.09" x2="124.4" y2="454.09" stroke="#1a1a1a" stroke-width="1.0"/>
<text x="119.3" y="457.09" font-size="8.7" fill="#4d4d4d" text-anchor="end">0</text>
<line x1="128" y1="461.8" x2="128" y2="464.3" stroke="#1a1a1a" stroke-width="1.0"/>
<line x1="148.29" y1="461.8" x2="148.29" y2="464.3" stroke="#1a1a1a" stroke-width="1.0"/>
<line x1="168.44" y1="461.8" x2="168.44" y2="464.3" stroke="#1a1a1a" stroke-width="1.0"/>
<line x1="188.73" y1="461.8" x2="188.73" y2="464.3" stroke="#1a1a1a" stroke-width="1.0"/>
<text x="157.78" y="385.34" font-size="8.0" fill="#000" text-anchor="start">cor = -0.33</text>
<text x="157.78" y="392.64" font-size="8.0" fill="#000" text-anchor="start">pval = 0.017</text>
<g fill="#2b2339" fill-opacity="0.32" stroke="#2b2339" stroke-opacity="0.5" stroke-width="0.5">
<circle cx="228.88" cy="418.61" r="1.75"/>
<circle cx="228.88" cy="421.09" r="1.75"/>
<circle cx="228.88" cy="422.12" r="1.75"/>
<circle cx="228.88" cy="425.91" r="1.75"/>
<circle cx="228.88" cy="431.75" r="1.75"/>
<circle cx="228.88" cy="437.88" r="1.75"/>
<circle cx="228.88" cy="441.09" r="1.75"/>
<circle cx="238.95" cy="379.2" r="1.75"/>
<circle cx="238.95" cy="427.96" r="1.75"/>
<circle cx="238.95" cy="433.21" r="1.75"/>
<circle cx="238.95" cy="434.23" r="1.75"/>
<circle cx="238.95" cy="437.15" r="1.75"/>
<circle cx="238.95" cy="441.53" r="1.75"/>
<circle cx="238.95" cy="442.99" r="1.75"/>
<circle cx="238.95" cy="444.45" r="1.75"/>
<circle cx="238.95" cy="445.62" r="1.75"/>
<circle cx="238.95" cy="446.64" r="1.75"/>
<circle cx="249.17" cy="428.39" r="1.75"/>
<circle cx="249.17" cy="433.8" r="1.75"/>
<circle cx="249.17" cy="434.96" r="1.75"/>
<circle cx="249.17" cy="436.42" r="1.75"/>
<circle cx="249.17" cy="437.88" r="1.75"/>
<circle cx="249.17" cy="439.34" r="1.75"/>
<circle cx="249.17" cy="440.8" r="1.75"/>
<circle cx="249.17" cy="442.26" r="1.75"/>
<circle cx="249.17" cy="443.72" r="1.75"/>
<circle cx="249.17" cy="445.18" r="1.75"/>
<circle cx="249.17" cy="446.64" r="1.75"/>
<circle cx="249.17" cy="447.37" r="1.75"/>
<circle cx="249.17" cy="438.32" r="1.75"/>
<circle cx="249.17" cy="439.78" r="1.75"/>
<circle cx="249.17" cy="441.24" r="1.75"/>
<circle cx="249.17" cy="442.7" r="1.75"/>
<circle cx="249.17" cy="444.16" r="1.75"/>
<circle cx="249.17" cy="445.62" r="1.75"/>
<circle cx="249.17" cy="447.08" r="1.75"/>
<circle cx="249.17" cy="447.81" r="1.75"/>
<circle cx="259.24" cy="431.75" r="1.75"/>
<circle cx="259.24" cy="432.77" r="1.75"/>
<circle cx="259.24" cy="440.8" r="1.75"/>
<circle cx="259.24" cy="442.99" r="1.75"/>
<circle cx="259.24" cy="445.18" r="1.75"/>
<circle cx="259.24" cy="448.1" r="1.75"/>
<circle cx="269.31" cy="437.59" r="1.75"/>
<circle cx="269.31" cy="445.18" r="1.75"/>
<circle cx="279.53" cy="438.61" r="1.75"/>
<circle cx="279.53" cy="442.55" r="1.75"/>
<circle cx="299.68" cy="436.42" r="1.75"/>
<circle cx="299.68" cy="446.64" r="1.75"/>
</g>
<clipPath id="cb20"><rect x="225.4" y="375.1" width="78.2" height="86.7"/></clipPath>
<path d="M228.88 429.12 C230.75 429.73 236.3 431.68 240.12 432.77 C243.94 433.87 246.93 434.91 251.8 435.69 C256.66 436.47 263.96 437.03 269.31 437.45 C274.67 437.86 278.85 437.98 283.91 438.18 C288.97 438.37 297.05 438.54 299.68 438.61 L299.68 458.32 C297.05 457.23 288.97 453.82 283.91 451.75 C278.85 449.68 274.67 447.62 269.31 445.91 C263.96 444.21 256.66 442.63 251.8 441.53 C246.93 440.44 243.94 439.95 240.12 439.34 C236.3 438.73 230.75 438.13 228.88 437.88 Z" fill="#999999" fill-opacity="0.4" clip-path="url(#cb20)"/>
<line x1="228.88" y1="433.5" x2="299.68" y2="448.83" stroke="#3366FF" stroke-width="1.9"/>
<rect x="225.4" y="358.3" width="78.2" height="16.8" fill="#d9d9d9" stroke="#3d3d3d" stroke-width="0.95"/>
<text x="264.5" y="370.37" font-size="8.8" fill="#1a1a1a" text-anchor="middle">UTP</text>
<line x1="225.4" y1="375.1" x2="225.4" y2="462.4" stroke="#0d0d0d" stroke-width="1.3"/>
<line x1="224.8" y1="461.8" x2="303.6" y2="461.8" stroke="#0d0d0d" stroke-width="1.3"/>
<line x1="223" y1="388.69" x2="225.4" y2="388.69" stroke="#1a1a1a" stroke-width="1.0"/>
<text x="220.3" y="391.69" font-size="8.7" fill="#4d4d4d" text-anchor="end">7.5</text>
<line x1="223" y1="408.54" x2="225.4" y2="408.54" stroke="#1a1a1a" stroke-width="1.0"/>
<text x="220.3" y="411.54" font-size="8.7" fill="#4d4d4d" text-anchor="end">5.0</text>
<line x1="223" y1="428.39" x2="225.4" y2="428.39" stroke="#1a1a1a" stroke-width="1.0"/>
<text x="220.3" y="431.39" font-size="8.7" fill="#4d4d4d" text-anchor="end">2.5</text>
<line x1="223" y1="448.39" x2="225.4" y2="448.39" stroke="#1a1a1a" stroke-width="1.0"/>
<text x="220.3" y="451.39" font-size="8.7" fill="#4d4d4d" text-anchor="end">0.0</text>
<line x1="228.88" y1="461.8" x2="228.88" y2="464.3" stroke="#1a1a1a" stroke-width="1.0"/>
<line x1="249.17" y1="461.8" x2="249.17" y2="464.3" stroke="#1a1a1a" stroke-width="1.0"/>
<line x1="269.31" y1="461.8" x2="269.31" y2="464.3" stroke="#1a1a1a" stroke-width="1.0"/>
<line x1="289.46" y1="461.8" x2="289.46" y2="464.3" stroke="#1a1a1a" stroke-width="1.0"/>
<text x="258.66" y="385.34" font-size="8.0" fill="#000" text-anchor="start">cor = -0.27</text>
<text x="258.66" y="392.64" font-size="8.0" fill="#000" text-anchor="start">pval = 0.046</text>
<g fill="#2b2339" fill-opacity="0.32" stroke="#2b2339" stroke-opacity="0.5" stroke-width="0.5">
<circle cx="27.27" cy="553.18" r="1.75"/>
<circle cx="27.27" cy="556.1" r="1.75"/>
<circle cx="27.27" cy="558.29" r="1.75"/>
<circle cx="27.27" cy="559.75" r="1.75"/>
<circle cx="27.27" cy="561.21" r="1.75"/>
<circle cx="27.27" cy="561.94" r="1.75"/>
<circle cx="37.2" cy="549.82" r="1.75"/>
<circle cx="37.2" cy="552.45" r="1.75"/>
<circle cx="37.2" cy="555.37" r="1.75"/>
<circle cx="37.2" cy="557.56" r="1.75"/>
<circle cx="37.2" cy="559.75" r="1.75"/>
<circle cx="37.2" cy="561.5" r="1.75"/>
<circle cx="37.2" cy="562.67" r="1.75"/>
<circle cx="47.42" cy="538.29" r="1.75"/>
<circle cx="47.42" cy="547.34" r="1.75"/>
<circle cx="47.42" cy="549.53" r="1.75"/>
<circle cx="47.42" cy="552.45" r="1.75"/>
<circle cx="47.42" cy="553.91" r="1.75"/>
<circle cx="47.42" cy="556.1" r="1.75"/>
<circle cx="47.42" cy="557.56" r="1.75"/>
<circle cx="47.42" cy="559.02" r="1.75"/>
<circle cx="47.42" cy="560.48" r="1.75"/>
<circle cx="47.42" cy="561.94" r="1.75"/>
<circle cx="47.42" cy="563.4" r="1.75"/>
<circle cx="47.42" cy="552.89" r="1.75"/>
<circle cx="47.42" cy="554.35" r="1.75"/>
<circle cx="47.42" cy="556.54" r="1.75"/>
<circle cx="47.42" cy="558" r="1.75"/>
<circle cx="47.42" cy="559.46" r="1.75"/>
<circle cx="47.42" cy="560.92" r="1.75"/>
<circle cx="47.42" cy="562.38" r="1.75"/>
<circle cx="47.42" cy="563.84" r="1.75"/>
<circle cx="57.64" cy="535.96" r="1.75"/>
<circle cx="57.64" cy="555.37" r="1.75"/>
<circle cx="57.64" cy="556.83" r="1.75"/>
<circle cx="57.64" cy="558.29" r="1.75"/>
<circle cx="57.64" cy="561.21" r="1.75"/>
<circle cx="57.64" cy="562.38" r="1.75"/>
<circle cx="67.56" cy="554.64" r="1.75"/>
<circle cx="67.56" cy="558" r="1.75"/>
<circle cx="77.78" cy="552.89" r="1.75"/>
<circle cx="77.78" cy="559.46" r="1.75"/>
<circle cx="97.93" cy="487.78" r="1.75"/>
<circle cx="97.93" cy="556.1" r="1.75"/>
</g>
<clipPath id="cb01"><rect x="23.3" y="483.9" width="78.5" height="86.7"/></clipPath>
<path d="M27.27 557.56 C29.65 557.2 36.52 556.95 41.58 555.37 C46.64 553.79 51.55 550.87 57.64 548.07 C63.72 545.27 71.36 541.55 78.07 538.58 C84.79 535.62 94.62 531.65 97.93 530.26 L97.93 548.8 C94.62 549.41 84.79 551.11 78.07 552.45 C71.36 553.79 63.72 555.37 57.64 556.83 C51.55 558.29 46.64 559.63 41.58 561.21 C36.52 562.79 29.65 565.47 27.27 566.32 Z" fill="#999999" fill-opacity="0.4" clip-path="url(#cb01)"/>
<line x1="27.27" y1="561.94" x2="97.93" y2="539.61" stroke="#3366FF" stroke-width="1.9"/>
<rect x="23.3" y="467.1" width="78.5" height="16.8" fill="#d9d9d9" stroke="#3d3d3d" stroke-width="0.95"/>
<text x="62.55" y="479.17" font-size="8.8" fill="#1a1a1a" text-anchor="middle">Cytosine</text>
<line x1="23.3" y1="483.9" x2="23.3" y2="571.2" stroke="#0d0d0d" stroke-width="1.3"/>
<line x1="22.7" y1="570.6" x2="101.8" y2="570.6" stroke="#0d0d0d" stroke-width="1.3"/>
<line x1="20.9" y1="506.76" x2="23.3" y2="506.76" stroke="#1a1a1a" stroke-width="1.0"/>
<text x="18.2" y="512.76" font-size="8.7" fill="#4d4d4d" text-anchor="end">10</text>
<line x1="20.9" y1="535.66" x2="23.3" y2="535.66" stroke="#1a1a1a" stroke-width="1.0"/>
<text x="18.2" y="538.66" font-size="8.7" fill="#4d4d4d" text-anchor="end">5</text>
<line x1="20.9" y1="564.42" x2="23.3" y2="564.42" stroke="#1a1a1a" stroke-width="1.0"/>
<text x="18.2" y="567.42" font-size="8.7" fill="#4d4d4d" text-anchor="end">0</text>
<line x1="27.27" y1="570.6" x2="27.27" y2="573.1" stroke="#1a1a1a" stroke-width="1.0"/>
<line x1="47.42" y1="570.6" x2="47.42" y2="573.1" stroke="#1a1a1a" stroke-width="1.0"/>
<line x1="67.56" y1="570.6" x2="67.56" y2="573.1" stroke="#1a1a1a" stroke-width="1.0"/>
<line x1="87.85" y1="570.6" x2="87.85" y2="573.1" stroke="#1a1a1a" stroke-width="1.0"/>
<text x="57.05" y="494.07" font-size="8.0" fill="#000" text-anchor="start">cor = 0.31</text>
<text x="57.05" y="501.37" font-size="8.0" fill="#000" text-anchor="start">pval = 0.022</text>
<g fill="#2b2339" fill-opacity="0.32" stroke="#2b2339" stroke-opacity="0.5" stroke-width="0.5">
<circle cx="128" cy="506.03" r="1.75"/>
<circle cx="128" cy="510.41" r="1.75"/>
<circle cx="128" cy="513.77" r="1.75"/>
<circle cx="128" cy="529.82" r="1.75"/>
<circle cx="128" cy="530.85" r="1.75"/>
<circle cx="128" cy="534.2" r="1.75"/>
<circle cx="128" cy="539.75" r="1.75"/>
<circle cx="138.07" cy="487.93" r="1.75"/>
<circle cx="138.07" cy="488.22" r="1.75"/>
<circle cx="138.07" cy="514.06" r="1.75"/>
<circle cx="138.07" cy="516.69" r="1.75"/>
<circle cx="138.07" cy="523.55" r="1.75"/>
<circle cx="138.07" cy="525.01" r="1.75"/>
<circle cx="138.07" cy="539.61" r="1.75"/>
<circle cx="138.07" cy="542.96" r="1.75"/>
<circle cx="138.07" cy="549.09" r="1.75"/>
<circle cx="138.07" cy="553.91" r="1.75"/>
<circle cx="138.07" cy="561.94" r="1.75"/>
<circle cx="148.29" cy="506.18" r="1.75"/>
<circle cx="148.29" cy="510.12" r="1.75"/>
<circle cx="148.29" cy="519.9" r="1.75"/>
<circle cx="148.29" cy="520.04" r="1.75"/>
<circle cx="148.29" cy="525.45" r="1.75"/>
<circle cx="148.29" cy="527.64" r="1.75"/>
<circle cx="148.29" cy="529.39" r="1.75"/>
<circle cx="148.29" cy="531.28" r="1.75"/>
<circle cx="148.29" cy="533.47" r="1.75"/>
<circle cx="148.29" cy="534.93" r="1.75"/>
<circle cx="148.29" cy="536.39" r="1.75"/>
<circle cx="148.29" cy="544.42" r="1.75"/>
<circle cx="148.29" cy="546.61" r="1.75"/>
<circle cx="148.29" cy="548.07" r="1.75"/>
<circle cx="148.29" cy="549.09" r="1.75"/>
<circle cx="148.29" cy="550.99" r="1.75"/>
<circle cx="148.29" cy="555.37" r="1.75"/>
<circle cx="148.29" cy="528.07" r="1.75"/>
<circle cx="148.29" cy="529.82" r="1.75"/>
<circle cx="148.29" cy="531.72" r="1.75"/>
<circle cx="148.29" cy="533.91" r="1.75"/>
<circle cx="148.29" cy="535.37" r="1.75"/>
<circle cx="148.29" cy="536.83" r="1.75"/>
<circle cx="148.29" cy="544.86" r="1.75"/>
<circle cx="148.29" cy="547.05" r="1.75"/>
<circle cx="148.29" cy="548.51" r="1.75"/>
<circle cx="148.29" cy="549.53" r="1.75"/>
<circle cx="148.29" cy="551.43" r="1.75"/>
<circle cx="148.29" cy="555.81" r="1.75"/>
<circle cx="158.36" cy="509.09" r="1.75"/>
<circle cx="158.36" cy="526.91" r="1.75"/>
<circle cx="158.36" cy="533.18" r="1.75"/>
<circle cx="158.36" cy="537.12" r="1.75"/>
<circle cx="158.36" cy="541.5" r="1.75"/>
<circle cx="158.36" cy="545.15" r="1.75"/>
<circle cx="158.36" cy="551.72" r="1.75"/>
<circle cx="158.36" cy="562.96" r="1.75"/>
<circle cx="168.44" cy="521.8" r="1.75"/>
<circle cx="168.44" cy="542.67" r="1.75"/>
<circle cx="178.66" cy="529.82" r="1.75"/>
<circle cx="178.66" cy="542.96" r="1.75"/>
<circle cx="198.8" cy="544.13" r="1.75"/>
<circle cx="198.8" cy="562.67" r="1.75"/>
</g>
<clipPath id="cb11"><rect x="124.4" y="483.9" width="78.2" height="86.7"/></clipPath>
<path d="M128 517.42 C130.02 518.51 136.15 522.04 140.12 523.99 C144.08 525.93 146.93 527.64 151.8 529.09 C156.66 530.55 163.96 531.77 169.31 532.74 C174.67 533.72 179 534.33 183.91 534.93 C188.83 535.54 196.32 536.15 198.8 536.39 L198.8 566.32 C196.32 564.62 188.83 559.39 183.91 556.1 C179 552.82 174.67 549.65 169.31 546.61 C163.96 543.57 156.66 539.68 151.8 537.85 C146.93 536.03 144.08 536.39 140.12 535.66 C136.15 534.93 130.02 533.84 128 533.47 Z" fill="#999999" fill-opacity="0.4" clip-path="url(#cb11)"/>
<line x1="128" y1="525.01" x2="198.8" y2="551.28" stroke="#3366FF" stroke-width="1.9"/>
<rect x="124.4" y="467.1" width="78.2" height="16.8" fill="#d9d9d9" stroke="#3d3d3d" stroke-width="0.95"/>
<text x="163.5" y="479.17" font-size="8.8" fill="#1a1a1a" text-anchor="middle">ADMA</text>
<line x1="124.4" y1="483.9" x2="124.4" y2="571.2" stroke="#0d0d0d" stroke-width="1.3"/>
<line x1="123.8" y1="570.6" x2="202.6" y2="570.6" stroke="#0d0d0d" stroke-width="1.3"/>
<line x1="122" y1="486.03" x2="124.4" y2="486.03" stroke="#1a1a1a" stroke-width="1.0"/>
<text x="119.3" y="489.03" font-size="8.7" fill="#4d4d4d" text-anchor="end">2.5</text>
<line x1="122" y1="502.09" x2="124.4" y2="502.09" stroke="#1a1a1a" stroke-width="1.0"/>
<text x="119.3" y="505.09" font-size="8.7" fill="#4d4d4d" text-anchor="end">2.0</text>
<line x1="122" y1="518.15" x2="124.4" y2="518.15" stroke="#1a1a1a" stroke-width="1.0"/>
<text x="119.3" y="521.15" font-size="8.7" fill="#4d4d4d" text-anchor="end">1.5</text>
<line x1="122" y1="534.2" x2="124.4" y2="534.2" stroke="#1a1a1a" stroke-width="1.0"/>
<text x="119.3" y="537.2" font-size="8.7" fill="#4d4d4d" text-anchor="end">1.0</text>
<line x1="122" y1="550.12" x2="124.4" y2="550.12" stroke="#1a1a1a" stroke-width="1.0"/>
<text x="119.3" y="553.12" font-size="8.7" fill="#4d4d4d" text-anchor="end">0.5</text>
<line x1="122" y1="566.03" x2="124.4" y2="566.03" stroke="#1a1a1a" stroke-width="1.0"/>
<text x="119.3" y="569.03" font-size="8.7" fill="#4d4d4d" text-anchor="end">0.0</text>
<line x1="128" y1="570.6" x2="128" y2="573.1" stroke="#1a1a1a" stroke-width="1.0"/>
<line x1="148.29" y1="570.6" x2="148.29" y2="573.1" stroke="#1a1a1a" stroke-width="1.0"/>
<line x1="168.44" y1="570.6" x2="168.44" y2="573.1" stroke="#1a1a1a" stroke-width="1.0"/>
<line x1="188.73" y1="570.6" x2="188.73" y2="573.1" stroke="#1a1a1a" stroke-width="1.0"/>
<text x="157.78" y="494.07" font-size="8.0" fill="#000" text-anchor="start">cor = -0.34</text>
<text x="157.78" y="501.37" font-size="8.0" fill="#000" text-anchor="start">pval = 0.013</text>
<g fill="#2b2339" fill-opacity="0.32" stroke="#2b2339" stroke-opacity="0.5" stroke-width="0.5">
<circle cx="228.88" cy="552.45" r="1.75"/>
<circle cx="228.88" cy="553.91" r="1.75"/>
<circle cx="228.88" cy="556.1" r="1.75"/>
<circle cx="228.88" cy="562.38" r="1.75"/>
<circle cx="238.95" cy="502.38" r="1.75"/>
<circle cx="238.95" cy="507.93" r="1.75"/>
<circle cx="238.95" cy="536.83" r="1.75"/>
<circle cx="238.95" cy="542.96" r="1.75"/>
<circle cx="238.95" cy="549.09" r="1.75"/>
<circle cx="238.95" cy="556.1" r="1.75"/>
<circle cx="238.95" cy="557.56" r="1.75"/>
<circle cx="238.95" cy="559.75" r="1.75"/>
<circle cx="238.95" cy="566.61" r="1.75"/>
<circle cx="249.17" cy="487.93" r="1.75"/>
<circle cx="249.17" cy="517.42" r="1.75"/>
<circle cx="249.17" cy="523.55" r="1.75"/>
<circle cx="249.17" cy="524.42" r="1.75"/>
<circle cx="249.17" cy="531.58" r="1.75"/>
<circle cx="249.17" cy="533.47" r="1.75"/>
<circle cx="249.17" cy="535.66" r="1.75"/>
<circle cx="249.17" cy="537.85" r="1.75"/>
<circle cx="249.17" cy="540.77" r="1.75"/>
<circle cx="249.17" cy="549.09" r="1.75"/>
<circle cx="249.17" cy="550.99" r="1.75"/>
<circle cx="249.17" cy="551.72" r="1.75"/>
<circle cx="249.17" cy="557.56" r="1.75"/>
<circle cx="249.17" cy="559.02" r="1.75"/>
<circle cx="249.17" cy="560.48" r="1.75"/>
<circle cx="249.17" cy="562.38" r="1.75"/>
<circle cx="249.17" cy="533.91" r="1.75"/>
<circle cx="249.17" cy="536.1" r="1.75"/>
<circle cx="249.17" cy="538.29" r="1.75"/>
<circle cx="249.17" cy="541.21" r="1.75"/>
<circle cx="249.17" cy="549.53" r="1.75"/>
<circle cx="249.17" cy="551.43" r="1.75"/>
<circle cx="249.17" cy="552.16" r="1.75"/>
<circle cx="249.17" cy="558" r="1.75"/>
<circle cx="249.17" cy="559.46" r="1.75"/>
<circle cx="249.17" cy="560.92" r="1.75"/>
<circle cx="249.17" cy="562.82" r="1.75"/>
<circle cx="259.24" cy="523.99" r="1.75"/>
<circle cx="259.24" cy="524.28" r="1.75"/>
<circle cx="259.24" cy="537.12" r="1.75"/>
<circle cx="259.24" cy="544.86" r="1.75"/>
<circle cx="259.24" cy="549.09" r="1.75"/>
<circle cx="259.24" cy="554.93" r="1.75"/>
<circle cx="259.24" cy="556.83" r="1.75"/>
<circle cx="259.24" cy="561.21" r="1.75"/>
<circle cx="269.31" cy="518.58" r="1.75"/>
<circle cx="269.31" cy="559.75" r="1.75"/>
<circle cx="279.53" cy="523.69" r="1.75"/>
<circle cx="279.53" cy="562.38" r="1.75"/>
<circle cx="299.68" cy="487.78" r="1.75"/>
<circle cx="299.68" cy="533.04" r="1.75"/>
</g>
<clipPath id="cb21"><rect x="225.4" y="483.9" width="78.2" height="86.7"/></clipPath>
<path d="M228.88 542.96 C230.75 542.48 236.54 541.14 240.12 540.04 C243.69 538.95 245.47 538.58 250.34 536.39 C255.2 534.2 263.72 530.19 269.31 526.91 C274.91 523.62 278.85 520.21 283.91 516.69 C288.97 513.16 297.05 507.56 299.68 505.74 L299.68 539.31 C297.05 539.56 288.97 540.29 283.91 540.77 C278.85 541.26 274.91 541.26 269.31 542.23 C263.72 543.21 255.2 545.03 250.34 546.61 C245.47 548.19 243.69 549.65 240.12 551.72 C236.54 553.79 230.75 557.81 228.88 559.02 Z" fill="#999999" fill-opacity="0.4" clip-path="url(#cb21)"/>
<line x1="228.88" y1="550.99" x2="299.68" y2="522.53" stroke="#3366FF" stroke-width="1.9"/>
<rect x="225.4" y="467.1" width="78.2" height="16.8" fill="#d9d9d9" stroke="#3d3d3d" stroke-width="0.95"/>
<text x="264.5" y="479.17" font-size="8.8" fill="#1a1a1a" text-anchor="middle">Cytidine</text>
<line x1="225.4" y1="483.9" x2="225.4" y2="571.2" stroke="#0d0d0d" stroke-width="1.3"/>
<line x1="224.8" y1="570.6" x2="303.6" y2="570.6" stroke="#0d0d0d" stroke-width="1.3"/>
<line x1="223" y1="489.24" x2="225.4" y2="489.24" stroke="#1a1a1a" stroke-width="1.0"/>
<text x="220.3" y="492.24" font-size="8.7" fill="#4d4d4d" text-anchor="end">4</text>
<line x1="223" y1="509.09" x2="225.4" y2="509.09" stroke="#1a1a1a" stroke-width="1.0"/>
<text x="220.3" y="512.09" font-size="8.7" fill="#4d4d4d" text-anchor="end">3</text>
<line x1="223" y1="529.09" x2="225.4" y2="529.09" stroke="#1a1a1a" stroke-width="1.0"/>
<text x="220.3" y="532.09" font-size="8.7" fill="#4d4d4d" text-anchor="end">2</text>
<line x1="223" y1="549.09" x2="225.4" y2="549.09" stroke="#1a1a1a" stroke-width="1.0"/>
<text x="220.3" y="552.09" font-size="8.7" fill="#4d4d4d" text-anchor="end">1</text>
<line x1="223" y1="568.95" x2="225.4" y2="568.95" stroke="#1a1a1a" stroke-width="1.0"/>
<text x="220.3" y="571.95" font-size="8.7" fill="#4d4d4d" text-anchor="end">0</text>
<line x1="228.88" y1="570.6" x2="228.88" y2="573.1" stroke="#1a1a1a" stroke-width="1.0"/>
<line x1="249.17" y1="570.6" x2="249.17" y2="573.1" stroke="#1a1a1a" stroke-width="1.0"/>
<line x1="269.31" y1="570.6" x2="269.31" y2="573.1" stroke="#1a1a1a" stroke-width="1.0"/>
<line x1="289.46" y1="570.6" x2="289.46" y2="573.1" stroke="#1a1a1a" stroke-width="1.0"/>
<text x="258.66" y="494.07" font-size="8.0" fill="#000" text-anchor="start">cor = 0.28</text>
<text x="258.66" y="501.37" font-size="8.0" fill="#000" text-anchor="start">pval = 0.044</text>
<g fill="#2b2339" fill-opacity="0.32" stroke="#2b2339" stroke-opacity="0.5" stroke-width="0.5">
<circle cx="27.27" cy="633.88" r="1.75"/>
<circle cx="27.27" cy="641.47" r="1.75"/>
<circle cx="27.27" cy="651.69" r="1.75"/>
<circle cx="27.27" cy="654.32" r="1.75"/>
<circle cx="27.27" cy="655.34" r="1.75"/>
<circle cx="27.27" cy="662.35" r="1.75"/>
<circle cx="37.2" cy="596.22" r="1.75"/>
<circle cx="37.2" cy="641.91" r="1.75"/>
<circle cx="37.2" cy="645.85" r="1.75"/>
<circle cx="37.2" cy="647.31" r="1.75"/>
<circle cx="37.2" cy="649.5" r="1.75"/>
<circle cx="37.2" cy="653.88" r="1.75"/>
<circle cx="37.2" cy="661.47" r="1.75"/>
<circle cx="37.2" cy="666.73" r="1.75"/>
<circle cx="37.2" cy="670.23" r="1.75"/>
<circle cx="47.42" cy="635.2" r="1.75"/>
<circle cx="47.42" cy="645.56" r="1.75"/>
<circle cx="47.42" cy="647.31" r="1.75"/>
<circle cx="47.42" cy="648.77" r="1.75"/>
<circle cx="47.42" cy="650.96" r="1.75"/>
<circle cx="47.42" cy="653.15" r="1.75"/>
<circle cx="47.42" cy="655.34" r="1.75"/>
<circle cx="47.42" cy="658.99" r="1.75"/>
<circle cx="47.42" cy="660.45" r="1.75"/>
<circle cx="47.42" cy="662.64" r="1.75"/>
<circle cx="47.42" cy="663.37" r="1.75"/>
<circle cx="47.42" cy="668.04" r="1.75"/>
<circle cx="47.42" cy="668.77" r="1.75"/>
<circle cx="47.42" cy="651.4" r="1.75"/>
<circle cx="47.42" cy="653.59" r="1.75"/>
<circle cx="47.42" cy="655.78" r="1.75"/>
<circle cx="47.42" cy="659.43" r="1.75"/>
<circle cx="47.42" cy="660.89" r="1.75"/>
<circle cx="47.42" cy="663.08" r="1.75"/>
<circle cx="47.42" cy="663.81" r="1.75"/>
<circle cx="47.42" cy="668.48" r="1.75"/>
<circle cx="47.42" cy="669.21" r="1.75"/>
<circle cx="57.64" cy="637.82" r="1.75"/>
<circle cx="57.64" cy="647.31" r="1.75"/>
<circle cx="57.64" cy="656.07" r="1.75"/>
<circle cx="57.64" cy="657.82" r="1.75"/>
<circle cx="57.64" cy="661.47" r="1.75"/>
<circle cx="57.64" cy="666.73" r="1.75"/>
<circle cx="57.64" cy="671.11" r="1.75"/>
<circle cx="67.56" cy="658.99" r="1.75"/>
<circle cx="67.56" cy="665.12" r="1.75"/>
<circle cx="77.78" cy="658.26" r="1.75"/>
<circle cx="97.93" cy="653.88" r="1.75"/>
<circle cx="97.93" cy="658.26" r="1.75"/>
</g>
<clipPath id="cb02"><rect x="23.3" y="592.7" width="78.5" height="84.7"/></clipPath>
<path d="M27.27 645.12 C29.41 645.78 36.03 647.97 40.12 649.07 C44.2 650.16 46.93 651.09 51.8 651.69 C56.66 652.3 63.96 652.55 69.31 652.72 C74.67 652.89 79.14 652.76 83.91 652.72 C88.68 652.67 95.59 652.47 97.93 652.42 L97.93 673.59 C95.59 672.62 88.68 669.58 83.91 667.75 C79.14 665.93 74.67 664.22 69.31 662.64 C63.96 661.06 56.66 659.19 51.8 658.26 C46.93 657.34 44.2 657.46 40.12 657.09 C36.03 656.73 29.41 656.24 27.27 656.07 Z" fill="#999999" fill-opacity="0.4" clip-path="url(#cb02)"/>
<line x1="27.27" y1="650.53" x2="97.93" y2="662.93" stroke="#3366FF" stroke-width="1.9"/>
<rect x="23.3" y="575.9" width="78.5" height="16.8" fill="#d9d9d9" stroke="#3d3d3d" stroke-width="0.95"/>
<text x="62.55" y="587.97" font-size="8.8" fill="#1a1a1a" text-anchor="middle">Formyl-valine</text>
<line x1="23.3" y1="592.7" x2="23.3" y2="678" stroke="#0d0d0d" stroke-width="1.3"/>
<line x1="22.7" y1="677.4" x2="101.8" y2="677.4" stroke="#0d0d0d" stroke-width="1.3"/>
<line x1="20.9" y1="603.23" x2="23.3" y2="603.23" stroke="#1a1a1a" stroke-width="1.0"/>
<text x="18.2" y="606.23" font-size="8.7" fill="#4d4d4d" text-anchor="end">4</text>
<line x1="20.9" y1="620.6" x2="23.3" y2="620.6" stroke="#1a1a1a" stroke-width="1.0"/>
<text x="18.2" y="623.6" font-size="8.7" fill="#4d4d4d" text-anchor="end">3</text>
<line x1="20.9" y1="638.12" x2="23.3" y2="638.12" stroke="#1a1a1a" stroke-width="1.0"/>
<text x="18.2" y="641.12" font-size="8.7" fill="#4d4d4d" text-anchor="end">2</text>
<line x1="20.9" y1="655.64" x2="23.3" y2="655.64" stroke="#1a1a1a" stroke-width="1.0"/>
<text x="18.2" y="658.64" font-size="8.7" fill="#4d4d4d" text-anchor="end">1</text>
<line x1="20.9" y1="673.15" x2="23.3" y2="673.15" stroke="#1a1a1a" stroke-width="1.0"/>
<text x="18.2" y="676.15" font-size="8.7" fill="#4d4d4d" text-anchor="end">0</text>
<line x1="27.27" y1="677.4" x2="27.27" y2="679.9" stroke="#1a1a1a" stroke-width="1.0"/>
<text x="27.27" y="687.6" font-size="8.7" fill="#4d4d4d" text-anchor="middle">0</text>
<line x1="47.42" y1="677.4" x2="47.42" y2="679.9" stroke="#1a1a1a" stroke-width="1.0"/>
<text x="47.42" y="687.6" font-size="8.7" fill="#4d4d4d" text-anchor="middle">2</text>
<line x1="67.56" y1="677.4" x2="67.56" y2="679.9" stroke="#1a1a1a" stroke-width="1.0"/>
<text x="67.56" y="687.6" font-size="8.7" fill="#4d4d4d" text-anchor="middle">4</text>
<line x1="87.85" y1="677.4" x2="87.85" y2="679.9" stroke="#1a1a1a" stroke-width="1.0"/>
<text x="87.85" y="687.6" font-size="8.7" fill="#4d4d4d" text-anchor="middle">6</text>
<text x="57.05" y="604.99" font-size="8.0" fill="#000" text-anchor="start">cor = -0.28</text>
<text x="57.05" y="612.29" font-size="8.0" fill="#000" text-anchor="start">pval = 0.038</text>
<g fill="#2b2339" fill-opacity="0.32" stroke="#2b2339" stroke-opacity="0.5" stroke-width="0.5">
<circle cx="128" cy="650.96" r="1.75"/>
<circle cx="128" cy="661.91" r="1.75"/>
<circle cx="128" cy="664.1" r="1.75"/>
<circle cx="128" cy="670.67" r="1.75"/>
<circle cx="128" cy="671.4" r="1.75"/>
<circle cx="138.07" cy="625.71" r="1.75"/>
<circle cx="138.07" cy="644.83" r="1.75"/>
<circle cx="138.07" cy="651.69" r="1.75"/>
<circle cx="138.07" cy="657.53" r="1.75"/>
<circle cx="138.07" cy="661.91" r="1.75"/>
<circle cx="138.07" cy="665.56" r="1.75"/>
<circle cx="138.07" cy="666.73" r="1.75"/>
<circle cx="138.07" cy="671.4" r="1.75"/>
<circle cx="138.07" cy="673.59" r="1.75"/>
<circle cx="148.29" cy="611.55" r="1.75"/>
<circle cx="148.29" cy="634.47" r="1.75"/>
<circle cx="148.29" cy="651.69" r="1.75"/>
<circle cx="148.29" cy="653.15" r="1.75"/>
<circle cx="148.29" cy="654.61" r="1.75"/>
<circle cx="148.29" cy="656.07" r="1.75"/>
<circle cx="148.29" cy="658.99" r="1.75"/>
<circle cx="148.29" cy="663.37" r="1.75"/>
<circle cx="148.29" cy="665.56" r="1.75"/>
<circle cx="148.29" cy="667.02" r="1.75"/>
<circle cx="148.29" cy="670.67" r="1.75"/>
<circle cx="148.29" cy="671.84" r="1.75"/>
<circle cx="148.29" cy="655.05" r="1.75"/>
<circle cx="148.29" cy="656.51" r="1.75"/>
<circle cx="148.29" cy="659.43" r="1.75"/>
<circle cx="148.29" cy="663.81" r="1.75"/>
<circle cx="148.29" cy="666" r="1.75"/>
<circle cx="148.29" cy="667.46" r="1.75"/>
<circle cx="148.29" cy="671.11" r="1.75"/>
<circle cx="148.29" cy="672.28" r="1.75"/>
<circle cx="158.36" cy="596.22" r="1.75"/>
<circle cx="158.36" cy="655.34" r="1.75"/>
<circle cx="158.36" cy="660.45" r="1.75"/>
<circle cx="158.36" cy="661.91" r="1.75"/>
<circle cx="158.36" cy="664.39" r="1.75"/>
<circle cx="158.36" cy="670.67" r="1.75"/>
<circle cx="168.44" cy="638.26" r="1.75"/>
<circle cx="168.44" cy="662.64" r="1.75"/>
<circle cx="178.66" cy="652.42" r="1.75"/>
<circle cx="198.8" cy="641.18" r="1.75"/>
<circle cx="198.8" cy="648.04" r="1.75"/>
</g>
<clipPath id="cb12"><rect x="124.4" y="592.7" width="78.2" height="84.7"/></clipPath>
<path d="M128 656.8 C130.99 656.44 140.9 655.71 145.96 654.61 C151.02 653.52 154.47 651.69 158.36 650.23 C162.26 648.77 165.06 647.8 169.31 645.85 C173.57 643.91 179 640.99 183.91 638.55 C188.83 636.12 196.32 632.47 198.8 631.26 L198.8 657.53 C196.32 657.58 188.83 657.7 183.91 657.82 C179 657.95 173.57 657.95 169.31 658.26 C165.06 658.58 162.26 659.11 158.36 659.72 C154.47 660.33 151.02 660.45 145.96 661.91 C140.9 663.37 130.99 667.39 128 668.48 Z" fill="#999999" fill-opacity="0.4" clip-path="url(#cb12)"/>
<line x1="128" y1="662.93" x2="198.8" y2="644.69" stroke="#3366FF" stroke-width="1.9"/>
<rect x="124.4" y="575.9" width="78.2" height="16.8" fill="#d9d9d9" stroke="#3d3d3d" stroke-width="0.95"/>
<text x="163.5" y="587.97" font-size="8.8" fill="#1a1a1a" text-anchor="middle">C18-OH</text>
<line x1="124.4" y1="592.7" x2="124.4" y2="678" stroke="#0d0d0d" stroke-width="1.3"/>
<line x1="123.8" y1="677.4" x2="202.6" y2="677.4" stroke="#0d0d0d" stroke-width="1.3"/>
<line x1="122" y1="600.31" x2="124.4" y2="600.31" stroke="#1a1a1a" stroke-width="1.0"/>
<text x="119.3" y="603.31" font-size="8.7" fill="#4d4d4d" text-anchor="end">5</text>
<line x1="122" y1="615.49" x2="124.4" y2="615.49" stroke="#1a1a1a" stroke-width="1.0"/>
<text x="119.3" y="618.49" font-size="8.7" fill="#4d4d4d" text-anchor="end">4</text>
<line x1="122" y1="630.53" x2="124.4" y2="630.53" stroke="#1a1a1a" stroke-width="1.0"/>
<text x="119.3" y="633.53" font-size="8.7" fill="#4d4d4d" text-anchor="end">3</text>
<line x1="122" y1="645.85" x2="124.4" y2="645.85" stroke="#1a1a1a" stroke-width="1.0"/>
<text x="119.3" y="648.85" font-size="8.7" fill="#4d4d4d" text-anchor="end">2</text>
<line x1="122" y1="661.18" x2="124.4" y2="661.18" stroke="#1a1a1a" stroke-width="1.0"/>
<text x="119.3" y="664.18" font-size="8.7" fill="#4d4d4d" text-anchor="end">1</text>
<line x1="122" y1="676.22" x2="124.4" y2="676.22" stroke="#1a1a1a" stroke-width="1.0"/>
<text x="119.3" y="679.22" font-size="8.7" fill="#4d4d4d" text-anchor="end">0</text>
<line x1="128" y1="677.4" x2="128" y2="679.9" stroke="#1a1a1a" stroke-width="1.0"/>
<text x="128" y="687.6" font-size="8.7" fill="#4d4d4d" text-anchor="middle">0</text>
<line x1="148.29" y1="677.4" x2="148.29" y2="679.9" stroke="#1a1a1a" stroke-width="1.0"/>
<text x="148.29" y="687.6" font-size="8.7" fill="#4d4d4d" text-anchor="middle">2</text>
<line x1="168.44" y1="677.4" x2="168.44" y2="679.9" stroke="#1a1a1a" stroke-width="1.0"/>
<text x="168.44" y="687.6" font-size="8.7" fill="#4d4d4d" text-anchor="middle">4</text>
<line x1="188.73" y1="677.4" x2="188.73" y2="679.9" stroke="#1a1a1a" stroke-width="1.0"/>
<text x="188.73" y="687.6" font-size="8.7" fill="#4d4d4d" text-anchor="middle">6</text>
<text x="157.78" y="604.55" font-size="8.0" fill="#000" text-anchor="start">cor = 0.33</text>
<text x="157.78" y="611.85" font-size="8.0" fill="#000" text-anchor="start">pval = 0.016</text>
<g fill="#2b2339" fill-opacity="0.32" stroke="#2b2339" stroke-opacity="0.5" stroke-width="0.5">
<circle cx="228.88" cy="627.9" r="1.75"/>
<circle cx="228.88" cy="647.75" r="1.75"/>
<circle cx="228.88" cy="658.26" r="1.75"/>
<circle cx="228.88" cy="667.75" r="1.75"/>
<circle cx="228.88" cy="672.86" r="1.75"/>
<circle cx="228.88" cy="673.59" r="1.75"/>
<circle cx="238.95" cy="628.34" r="1.75"/>
<circle cx="238.95" cy="648.77" r="1.75"/>
<circle cx="238.95" cy="651.69" r="1.75"/>
<circle cx="238.95" cy="654.61" r="1.75"/>
<circle cx="238.95" cy="664.83" r="1.75"/>
<circle cx="238.95" cy="666.73" r="1.75"/>
<circle cx="238.95" cy="667.75" r="1.75"/>
<circle cx="238.95" cy="671.84" r="1.75"/>
<circle cx="238.95" cy="672.57" r="1.75"/>
<circle cx="249.17" cy="606.15" r="1.75"/>
<circle cx="249.17" cy="623.23" r="1.75"/>
<circle cx="249.17" cy="623.96" r="1.75"/>
<circle cx="249.17" cy="637.39" r="1.75"/>
<circle cx="249.17" cy="638.26" r="1.75"/>
<circle cx="249.17" cy="640.01" r="1.75"/>
<circle cx="249.17" cy="644.83" r="1.75"/>
<circle cx="249.17" cy="654.61" r="1.75"/>
<circle cx="249.17" cy="657.53" r="1.75"/>
<circle cx="249.17" cy="658.26" r="1.75"/>
<circle cx="249.17" cy="660.45" r="1.75"/>
<circle cx="249.17" cy="663.37" r="1.75"/>
<circle cx="249.17" cy="667.75" r="1.75"/>
<circle cx="249.17" cy="668.48" r="1.75"/>
<circle cx="249.17" cy="670.67" r="1.75"/>
<circle cx="249.17" cy="673.59" r="1.75"/>
<circle cx="249.17" cy="640.45" r="1.75"/>
<circle cx="249.17" cy="645.27" r="1.75"/>
<circle cx="249.17" cy="655.05" r="1.75"/>
<circle cx="249.17" cy="657.97" r="1.75"/>
<circle cx="249.17" cy="658.7" r="1.75"/>
<circle cx="249.17" cy="660.89" r="1.75"/>
<circle cx="249.17" cy="663.81" r="1.75"/>
<circle cx="249.17" cy="668.19" r="1.75"/>
<circle cx="249.17" cy="668.92" r="1.75"/>
<circle cx="249.17" cy="671.11" r="1.75"/>
<circle cx="249.17" cy="674.03" r="1.75"/>
<circle cx="259.24" cy="596.22" r="1.75"/>
<circle cx="259.24" cy="642.2" r="1.75"/>
<circle cx="259.24" cy="654.61" r="1.75"/>
<circle cx="259.24" cy="656.07" r="1.75"/>
<circle cx="259.24" cy="658.55" r="1.75"/>
<circle cx="259.24" cy="664.83" r="1.75"/>
<circle cx="269.31" cy="631.55" r="1.75"/>
<circle cx="269.31" cy="664.54" r="1.75"/>
<circle cx="279.53" cy="653.88" r="1.75"/>
<circle cx="279.53" cy="660.16" r="1.75"/>
<circle cx="299.68" cy="642.93" r="1.75"/>
<circle cx="299.68" cy="653.15" r="1.75"/>
</g>
<clipPath id="cb22"><rect x="225.4" y="592.7" width="78.2" height="84.7"/></clipPath>
<path d="M228.88 650.96 C232.21 650.84 243.82 650.72 248.88 650.23 C253.94 649.75 255.83 649.02 259.24 648.04 C262.65 647.07 265.2 646.22 269.31 644.39 C273.43 642.57 278.85 639.7 283.91 637.09 C288.97 634.49 297.05 630.16 299.68 628.77 L299.68 660.45 C297.05 660.14 288.97 659.11 283.91 658.55 C278.85 658 273.43 657.27 269.31 657.09 C265.2 656.92 262.65 657.22 259.24 657.53 C255.83 657.85 253.94 657.65 248.88 658.99 C243.82 660.33 232.21 664.47 228.88 665.56 Z" fill="#999999" fill-opacity="0.4" clip-path="url(#cb22)"/>
<line x1="228.88" y1="658.55" x2="299.68" y2="644.39" stroke="#3366FF" stroke-width="1.9"/>
<rect x="225.4" y="575.9" width="78.2" height="16.8" fill="#d9d9d9" stroke="#3d3d3d" stroke-width="0.95"/>
<text x="264.5" y="587.97" font-size="8.8" fill="#1a1a1a" text-anchor="middle">NADH/NAD</text>
<line x1="225.4" y1="592.7" x2="225.4" y2="678" stroke="#0d0d0d" stroke-width="1.3"/>
<line x1="224.8" y1="677.4" x2="303.6" y2="677.4" stroke="#0d0d0d" stroke-width="1.3"/>
<line x1="223" y1="592.86" x2="225.4" y2="592.86" stroke="#1a1a1a" stroke-width="1.0"/>
<text x="220.3" y="595.86" font-size="8.7" fill="#4d4d4d" text-anchor="end">5</text>
<line x1="223" y1="610.09" x2="225.4" y2="610.09" stroke="#1a1a1a" stroke-width="1.0"/>
<text x="220.3" y="613.09" font-size="8.7" fill="#4d4d4d" text-anchor="end">4</text>
<line x1="223" y1="627.31" x2="225.4" y2="627.31" stroke="#1a1a1a" stroke-width="1.0"/>
<text x="220.3" y="630.31" font-size="8.7" fill="#4d4d4d" text-anchor="end">3</text>
<line x1="223" y1="644.39" x2="225.4" y2="644.39" stroke="#1a1a1a" stroke-width="1.0"/>
<text x="220.3" y="647.39" font-size="8.7" fill="#4d4d4d" text-anchor="end">2</text>
<line x1="223" y1="661.62" x2="225.4" y2="661.62" stroke="#1a1a1a" stroke-width="1.0"/>
<text x="220.3" y="664.62" font-size="8.7" fill="#4d4d4d" text-anchor="end">1</text>
<line x1="228.88" y1="677.4" x2="228.88" y2="679.9" stroke="#1a1a1a" stroke-width="1.0"/>
<text x="228.88" y="687.6" font-size="8.7" fill="#4d4d4d" text-anchor="middle">0</text>
<line x1="249.17" y1="677.4" x2="249.17" y2="679.9" stroke="#1a1a1a" stroke-width="1.0"/>
<text x="249.17" y="687.6" font-size="8.7" fill="#4d4d4d" text-anchor="middle">2</text>
<line x1="269.31" y1="677.4" x2="269.31" y2="679.9" stroke="#1a1a1a" stroke-width="1.0"/>
<text x="269.31" y="687.6" font-size="8.7" fill="#4d4d4d" text-anchor="middle">4</text>
<line x1="289.46" y1="677.4" x2="289.46" y2="679.9" stroke="#1a1a1a" stroke-width="1.0"/>
<text x="289.46" y="687.6" font-size="8.7" fill="#4d4d4d" text-anchor="middle">6</text>
<text x="258.66" y="604.55" font-size="8.0" fill="#000" text-anchor="start">cor = 0.29</text>
<text x="258.66" y="611.85" font-size="8.0" fill="#000" text-anchor="start">pval = 0.037</text>
<text x="159.1" y="697" font-size="8.8" fill="#000" text-anchor="middle">Comorbidities</text>
<g stroke-width="1.25" stroke-linecap="butt">
<line x1="484.9" y1="25.1" x2="517.8" y2="150.2" stroke="#dc7a67" stroke-width="1.25"/>
<line x1="436.1" y1="44.4" x2="517.8" y2="150.2" stroke="#dc7a67" stroke-width="1.25"/>
<line x1="390.7" y1="69" x2="517.8" y2="150.2" stroke="#dc7a67" stroke-width="1.25"/>
<line x1="399.5" y1="116.1" x2="517.8" y2="150.2" stroke="#dc7a67" stroke-width="1.25"/>
<line x1="369.2" y1="132.7" x2="517.8" y2="150.2" stroke="#dc7a67" stroke-width="1.25"/>
<line x1="370.6" y1="175.9" x2="517.8" y2="150.2" stroke="#dc7a67" stroke-width="1.25"/>
<line x1="606.2" y1="64.8" x2="517.8" y2="150.2" stroke="#dc7a67" stroke-width="1.25"/>
<line x1="557.09" y1="114.82" x2="517.9" y2="150.31" stroke="#dc7a67" stroke-width="1.25"/>
<line x1="556.31" y1="113.98" x2="517.7" y2="150.09" stroke="#dc7a67" stroke-width="1.25"/>
<line x1="660.1" y1="272.9" x2="517.8" y2="150.2" stroke="#dc7a67" stroke-width="1.25"/>
<line x1="502.2" y1="69.3" x2="517.8" y2="150.2" stroke="#dc7a67" stroke-width="1.25"/>
<line x1="502.2" y1="69.3" x2="485" y2="179.1" stroke="#dc7a67" stroke-width="1.25"/>
<line x1="502.2" y1="69.3" x2="527.8" y2="188.6" stroke="#dc7a67" stroke-width="1.25"/>
<line x1="544.84" y1="77.4" x2="517.94" y2="150.25" stroke="#dc7a67" stroke-width="1.25"/>
<line x1="543.76" y1="77" x2="517.66" y2="150.15" stroke="#dc7a67" stroke-width="1.25"/>
<line x1="544.3" y1="77.2" x2="485" y2="179.1" stroke="#dc7a67" stroke-width="1.25"/>
<line x1="458.74" y1="106.86" x2="518.08" y2="149.79" stroke="#dc7a67" stroke-width="1.25"/>
<line x1="457.6" y1="108.5" x2="517.8" y2="150.2" stroke="#dc7a67" stroke-width="1.25"/>
<line x1="456.46" y1="110.14" x2="517.52" y2="150.61" stroke="#dc7a67" stroke-width="1.25"/>
<line x1="457.6" y1="108.5" x2="485" y2="179.1" stroke="#dc7a67" stroke-width="1.25"/>
<line x1="457.6" y1="108.5" x2="527.8" y2="188.6" stroke="#dc7a67" stroke-width="1.25"/>
<line x1="471.51" y1="133.95" x2="517.88" y2="149.96" stroke="#dc7a67" stroke-width="1.25"/>
<line x1="470.89" y1="135.85" x2="517.72" y2="150.44" stroke="#dc7a67" stroke-width="1.25"/>
<line x1="471.2" y1="134.9" x2="485" y2="179.1" stroke="#dc7a67" stroke-width="1.25"/>
<line x1="471.2" y1="134.9" x2="527.8" y2="188.6" stroke="#dc7a67" stroke-width="1.25"/>
<line x1="413.2" y1="152.7" x2="517.8" y2="150.2" stroke="#dc7a67" stroke-width="1.25"/>
<line x1="413.55" y1="151.76" x2="485.09" y2="178.87" stroke="#dc7a67" stroke-width="1.25"/>
<line x1="412.85" y1="153.64" x2="484.91" y2="179.33" stroke="#dc7a67" stroke-width="1.25"/>
<line x1="413.2" y1="152.7" x2="527.8" y2="188.6" stroke="#dc7a67" stroke-width="1.25"/>
<line x1="430.9" y1="183.6" x2="517.8" y2="150.2" stroke="#dc7a67" stroke-width="1.25"/>
<line x1="430.9" y1="183.6" x2="485" y2="179.1" stroke="#dc7a67" stroke-width="1.25"/>
<line x1="430.9" y1="183.6" x2="527.8" y2="188.6" stroke="#dc7a67" stroke-width="1.25"/>
<line x1="409.3" y1="216.7" x2="517.8" y2="150.2" stroke="#dc7a67" stroke-width="1.25"/>
<line x1="409.3" y1="216.7" x2="485" y2="179.1" stroke="#dc7a67" stroke-width="1.25"/>
<line x1="409.3" y1="216.7" x2="527.8" y2="188.6" stroke="#dc7a67" stroke-width="1.25"/>
<line x1="405.1" y1="262" x2="517.8" y2="150.2" stroke="#dc7a67" stroke-width="1.25"/>
<line x1="405.1" y1="262" x2="485" y2="179.1" stroke="#dc7a67" stroke-width="1.25"/>
<line x1="607.2" y1="106.6" x2="517.8" y2="150.2" stroke="#dc7a67" stroke-width="1.25"/>
<line x1="607.2" y1="106.6" x2="485" y2="179.1" stroke="#dc7a67" stroke-width="1.25"/>
<line x1="594.6" y1="143.2" x2="517.8" y2="150.2" stroke="#dc7a67" stroke-width="1.25"/>
<line x1="594.6" y1="143.2" x2="485" y2="179.1" stroke="#dc7a67" stroke-width="1.25"/>
<line x1="643" y1="148.9" x2="517.8" y2="150.2" stroke="#dc7a67" stroke-width="1.25"/>
<line x1="643" y1="148.9" x2="485" y2="179.1" stroke="#dc7a67" stroke-width="1.25"/>
<line x1="565" y1="161.1" x2="517.8" y2="150.2" stroke="#dc7a67" stroke-width="1.25"/>
<line x1="565" y1="161.1" x2="485" y2="179.1" stroke="#dc7a67" stroke-width="1.25"/>
<line x1="565" y1="161.1" x2="527.8" y2="188.6" stroke="#dc7a67" stroke-width="1.25"/>
<line x1="590.5" y1="183.8" x2="517.8" y2="150.2" stroke="#dc7a67" stroke-width="1.25"/>
<line x1="590.5" y1="183.8" x2="485" y2="179.1" stroke="#dc7a67" stroke-width="1.25"/>
<line x1="590.5" y1="183.8" x2="527.8" y2="188.6" stroke="#dc7a67" stroke-width="1.25"/>
<line x1="633.6" y1="203.2" x2="517.8" y2="150.2" stroke="#dc7a67" stroke-width="1.25"/>
<line x1="633.6" y1="203.2" x2="485" y2="179.1" stroke="#dc7a67" stroke-width="1.25"/>
<line x1="563.6" y1="228.2" x2="517.8" y2="150.2" stroke="#dc7a67" stroke-width="1.25"/>
<line x1="563.6" y1="228.2" x2="485" y2="179.1" stroke="#dc7a67" stroke-width="1.25"/>
<line x1="563.6" y1="228.2" x2="527.8" y2="188.6" stroke="#dc7a67" stroke-width="1.25"/>
<line x1="610.2" y1="243.7" x2="517.8" y2="150.2" stroke="#dc7a67" stroke-width="1.25"/>
<line x1="610.2" y1="243.7" x2="485" y2="179.1" stroke="#dc7a67" stroke-width="1.25"/>
<line x1="610.2" y1="243.7" x2="527.8" y2="188.6" stroke="#dc7a67" stroke-width="1.25"/>
<line x1="579.1" y1="285.6" x2="517.8" y2="150.2" stroke="#dc7a67" stroke-width="1.25"/>
<line x1="579.1" y1="285.6" x2="527.8" y2="188.6" stroke="#dc7a67" stroke-width="1.25"/>
<line x1="456.6" y1="232.1" x2="517.8" y2="150.2" stroke="#dc7a67" stroke-width="1.25"/>
<line x1="456.6" y1="232.1" x2="485" y2="179.1" stroke="#dc7a67" stroke-width="1.25"/>
<line x1="456.6" y1="232.1" x2="527.8" y2="188.6" stroke="#dc7a67" stroke-width="1.25"/>
<line x1="495.5" y1="233.4" x2="517.8" y2="150.2" stroke="#dc7a67" stroke-width="1.25"/>
<line x1="495.5" y1="233.4" x2="485" y2="179.1" stroke="#dc7a67" stroke-width="1.25"/>
<line x1="495.5" y1="233.4" x2="527.8" y2="188.6" stroke="#dc7a67" stroke-width="1.25"/>
<line x1="529" y1="259.2" x2="517.8" y2="150.2" stroke="#dc7a67" stroke-width="1.25"/>
<line x1="529" y1="259.2" x2="485" y2="179.1" stroke="#dc7a67" stroke-width="1.25"/>
<line x1="528.43" y1="259.21" x2="527.66" y2="188.6" stroke="#dc7a67" stroke-width="1.25"/>
<line x1="529.57" y1="259.19" x2="527.94" y2="188.6" stroke="#dc7a67" stroke-width="1.25"/>
<line x1="527.2" y1="291.8" x2="517.8" y2="150.2" stroke="#dc7a67" stroke-width="1.25"/>
<line x1="527.2" y1="291.8" x2="485" y2="179.1" stroke="#dc7a67" stroke-width="1.25"/>
<line x1="526.63" y1="291.8" x2="527.66" y2="188.6" stroke="#dc7a67" stroke-width="1.25"/>
<line x1="527.77" y1="291.8" x2="527.94" y2="188.6" stroke="#dc7a67" stroke-width="1.25"/>
<line x1="486" y1="299.7" x2="517.8" y2="150.2" stroke="#dc7a67" stroke-width="1.25"/>
<line x1="486" y1="299.7" x2="485" y2="179.1" stroke="#dc7a67" stroke-width="1.25"/>
<line x1="486" y1="299.7" x2="527.8" y2="188.6" stroke="#dc7a67" stroke-width="1.25"/>
<line x1="447.3" y1="301.7" x2="517.8" y2="150.2" stroke="#dc7a67" stroke-width="1.25"/>
<line x1="447.3" y1="301.7" x2="485" y2="179.1" stroke="#dc7a67" stroke-width="1.25"/>
<line x1="447.3" y1="301.7" x2="527.8" y2="188.6" stroke="#dc7a67" stroke-width="1.25"/>
<line x1="554.8" y1="27" x2="517.8" y2="150.2" stroke="#5ba1cf" stroke-width="1.25"/>
<line x1="459.1" y1="259.5" x2="517.8" y2="150.2" stroke="#5ba1cf" stroke-width="1.25"/>
<line x1="459.1" y1="259.5" x2="485" y2="179.1" stroke="#5ba1cf" stroke-width="1.25"/>
<line x1="459.1" y1="259.5" x2="527.8" y2="188.6" stroke="#5ba1cf" stroke-width="1.25"/>
<line x1="560.7" y1="341.6" x2="517.8" y2="150.2" stroke="#5ba1cf" stroke-width="1.25"/>
<line x1="560.7" y1="341.6" x2="485" y2="179.1" stroke="#5ba1cf" stroke-width="1.25"/>
<line x1="560.7" y1="341.6" x2="527.8" y2="188.6" stroke="#5ba1cf" stroke-width="1.25"/>
<line x1="560.7" y1="341.6" x2="494" y2="345.3" stroke="#5ba1cf" stroke-width="1.25"/>
<line x1="425.6" y1="340.7" x2="494" y2="345.3" stroke="#5ba1cf" stroke-width="1.25"/>
<line x1="424" y1="340.7" x2="400.6" y2="302.2" stroke="#5ba1cf" stroke-width="1.25"/>
</g>
<circle cx="484.9" cy="25.1" r="10.8" fill="#a9cce3"/>
<circle cx="554.8" cy="27" r="10.8" fill="#f1cfc8"/>
<circle cx="436.1" cy="44.4" r="10.8" fill="#cfe1ee"/>
<circle cx="606.2" cy="64.8" r="10.8" fill="#a9cce3"/>
<circle cx="390.7" cy="69" r="10.8" fill="#3f8ebf"/>
<circle cx="502.2" cy="69.3" r="10.8" fill="#cfe1ee"/>
<circle cx="544.3" cy="77.2" r="10.8" fill="#6daad1"/>
<circle cx="607.2" cy="106.6" r="10.8" fill="#c6dcea"/>
<circle cx="457.6" cy="108.5" r="10.8" fill="#c6dcea"/>
<circle cx="556.7" cy="114.4" r="10.8" fill="#cfe1ee"/>
<circle cx="399.5" cy="116.1" r="10.8" fill="#c6dcea"/>
<circle cx="369.2" cy="132.7" r="10.8" fill="#7fb4d7"/>
<circle cx="471.2" cy="134.9" r="10.8" fill="#cfe1ee"/>
<circle cx="594.6" cy="143.2" r="10.8" fill="#6daad1"/>
<circle cx="643" cy="148.9" r="10.8" fill="#cfe1ee"/>
<circle cx="413.2" cy="152.7" r="10.8" fill="#b3d2e6"/>
<circle cx="565" cy="161.1" r="10.8" fill="#cfe1ee"/>
<circle cx="370.6" cy="175.9" r="10.8" fill="#bfd8e8"/>
<circle cx="430.9" cy="183.6" r="10.8" fill="#cfe1ee"/>
<circle cx="590.5" cy="183.8" r="10.8" fill="#c6dcea"/>
<circle cx="633.6" cy="203.2" r="10.8" fill="#c6dcea"/>
<circle cx="409.3" cy="216.7" r="10.8" fill="#c6dcea"/>
<circle cx="563.6" cy="228.2" r="10.8" fill="#cfe1ee"/>
<circle cx="456.6" cy="232.1" r="10.8" fill="#cfe1ee"/>
<circle cx="495.5" cy="233.4" r="10.8" fill="#d6e6f0"/>
<circle cx="610.2" cy="243.7" r="10.8" fill="#7fb4d7"/>
<circle cx="405.1" cy="262" r="10.8" fill="#cfe1ee"/>
<circle cx="459.1" cy="259.5" r="10.8" fill="#efc1b9"/>
<circle cx="529" cy="259.2" r="10.8" fill="#c6dcea"/>
<circle cx="660.1" cy="272.9" r="10.8" fill="#d6e6f0"/>
<circle cx="579.1" cy="285.6" r="10.8" fill="#5fa2ce"/>
<circle cx="447.3" cy="301.7" r="10.8" fill="#cfe1ee"/>
<circle cx="486" cy="299.7" r="10.8" fill="#a9cce3"/>
<circle cx="527.2" cy="291.8" r="10.8" fill="#c0d9e9"/>
<circle cx="425.6" cy="340.7" r="10.8" fill="#e58f82"/>
<circle cx="560.7" cy="341.6" r="10.8" fill="#eba99d"/>
<rect x="507" y="139.4" width="21.6" height="21.6" fill="#6baad1" stroke="none" stroke-width="1"/>
<rect x="474.2" y="168.3" width="21.6" height="21.6" fill="#7db4d7" stroke="none" stroke-width="1"/>
<rect x="517" y="177.8" width="21.6" height="21.6" fill="#6baad1" stroke="none" stroke-width="1"/>
<rect x="393.8" y="291.4" width="21.6" height="21.6" fill="#3f8ebf" stroke="none" stroke-width="1"/>
<rect x="483.2" y="332.8" width="21.6" height="21.6" fill="#c6dcea" stroke="none" stroke-width="1"/>
<g font-size="7.6" text-anchor="middle" fill="#000">
<text x="484.9" y="27.8">CKMT2</text>
<text x="554.8" y="29.7">GNG12</text>
<text x="436.1" y="47.1">PDHX</text>
<text x="606.2" y="67.5">KLHL31</text>
<text x="390.7" y="71.7">AF131216.3</text>
<text x="502.2" y="72">OGDH</text>
<text x="544.3" y="79.9">LDHD</text>
<text x="607.2" y="109.3">SUCLA2</text>
<text x="457.6" y="111.2">CHCHD3</text>
<text x="556.7" y="117.1">DNAJC7</text>
<text x="399.5" y="118.8">PCCB</text>
<text x="369.2" y="135.4">RPL3L</text>
<text x="471.2" y="137.6">NDUFS1</text>
<text x="594.6" y="145.9">DIRAS1</text>
<text x="643" y="151.6">ACO2</text>
<text x="413.2" y="155.4">AIFM1</text>
<text x="565" y="163.8">DECR1</text>
<text x="370.6" y="178.6">SLC2A4</text>
<text x="430.9" y="186.3">GPX3</text>
<text x="590.5" y="186.5">COQ9</text>
<text x="633.6" y="205.9">GOT2</text>
<text x="409.3" y="219.4">SDHA</text>
<text x="563.6" y="230.9">COX10</text>
<text x="456.6" y="234.8">NDUFV1</text>
<text x="495.5" y="236.1">VDAC1</text>
<text x="610.2" y="246.4">RAB3A</text>
<text x="405.1" y="264.7">NNT</text>
<text x="459.1" y="262.2">MFAP4</text>
<text x="529" y="261.9">ATPAF1</text>
<text x="660.1" y="275.6">PDHB</text>
<text x="579.1" y="288.3">LRRC2</text>
<text x="447.3" y="304.4">MCCC2</text>
<text x="486" y="302.4">FAM155B</text>
<text x="527.2" y="294.5">COQ10A</text>
<text x="425.6" y="343.4">COL23A1</text>
<text x="560.7" y="344.3">TMEM176A</text>
<text x="517.8" y="152.9">C18:2</text>
<text x="485" y="181.8">C18:1</text>
<text x="527.8" y="191.3">C16:1</text>
<text x="404.6" y="304.9">UTP</text>
<text x="494" y="346.3">ATP</text>
</g>
<text x="585" y="308.8" font-size="8.0" fill="#000" text-anchor="start">Node color: logFC</text>
<defs><linearGradient id="lg" x1="0" x2="1" y1="0" y2="0"><stop offset="0" stop-color="#3a88c0"/><stop offset="0.25" stop-color="#8fbfdd"/><stop offset="0.5" stop-color="#fbfbfb"/><stop offset="0.75" stop-color="#eba898"/><stop offset="1" stop-color="#d6604d"/></linearGradient></defs>
<rect x="585" y="310.9" width="95.4" height="9.2" fill="url(#lg)" stroke="none" stroke-width="1"/>
<text x="586.2" y="328.2" font-size="8.0" fill="#000" text-anchor="middle">-0.7</text>
<text x="608.6" y="328.2" font-size="8.0" fill="#000" text-anchor="middle">-0.3</text>
<text x="632.6" y="328.2" font-size="8.0" fill="#000" text-anchor="middle">0.0</text>
<text x="656.6" y="328.2" font-size="8.0" fill="#000" text-anchor="middle">0.3</text>
<text x="679.6" y="328.2" font-size="8.0" fill="#000" text-anchor="middle">0.7</text>
<circle cx="616.1" cy="336.9" r="4.7" fill="#c9c9c9" stroke="#8a8a8a" stroke-width="0.6"/>
<text x="624" y="339" font-size="8.0" fill="#000" text-anchor="start">Transcript</text>
<rect x="611.4" y="343.4" width="9.4" height="9.4" fill="#c9c9c9" stroke="#8a8a8a" stroke-width="0.6"/>
<text x="623.9" y="350.6" font-size="8.0" fill="#000" text-anchor="start">Metabolite</text>
<rect x="367.4" y="370.4" width="161.4" height="291.5" fill="#ffffff" stroke="none" stroke-width="1"/>
<rect x="443.35" y="370.4" width="9.49" height="9.4" fill="#d9eef5" stroke="none" stroke-width="1"/>
<rect x="462.34" y="370.4" width="9.49" height="9.4" fill="#d9eef5" stroke="none" stroke-width="1"/>
<rect x="500.32" y="370.4" width="9.49" height="9.4" fill="#d9eef5" stroke="none" stroke-width="1"/>
<rect x="433.86" y="379.8" width="9.49" height="9.4" fill="#aed8ea" stroke="none" stroke-width="1"/>
<rect x="443.35" y="379.8" width="9.49" height="9.4" fill="#aed8ea" stroke="none" stroke-width="1"/>
<rect x="433.86" y="389.21" width="9.49" height="9.4" fill="#aed8ea" stroke="none" stroke-width="1"/>
<rect x="443.35" y="389.21" width="9.49" height="9.4" fill="#aed8ea" stroke="none" stroke-width="1"/>
<rect x="367.4" y="398.61" width="9.49" height="9.4" fill="#fdd288" stroke="none" stroke-width="1"/>
<rect x="376.89" y="398.61" width="9.49" height="9.4" fill="#fdc476" stroke="none" stroke-width="1"/>
<rect x="395.88" y="398.61" width="9.49" height="9.4" fill="#fdd288" stroke="none" stroke-width="1"/>
<rect x="433.86" y="398.61" width="9.49" height="9.4" fill="#fdae61" stroke="none" stroke-width="1"/>
<rect x="490.82" y="398.61" width="9.49" height="9.4" fill="#fdd288" stroke="none" stroke-width="1"/>
<rect x="509.81" y="398.61" width="9.49" height="9.4" fill="#fdc476" stroke="none" stroke-width="1"/>
<rect x="405.38" y="408.01" width="9.49" height="9.4" fill="#e6f4f3" stroke="none" stroke-width="1"/>
<rect x="443.35" y="408.01" width="9.49" height="9.4" fill="#d9eef5" stroke="none" stroke-width="1"/>
<rect x="471.84" y="408.01" width="9.49" height="9.4" fill="#e6f4f3" stroke="none" stroke-width="1"/>
<rect x="481.33" y="408.01" width="9.49" height="9.4" fill="#e6f4f3" stroke="none" stroke-width="1"/>
<rect x="490.82" y="408.01" width="9.49" height="9.4" fill="#d9eef5" stroke="none" stroke-width="1"/>
<rect x="405.38" y="417.42" width="9.49" height="9.4" fill="#d9eef5" stroke="none" stroke-width="1"/>
<rect x="443.35" y="417.42" width="9.49" height="9.4" fill="#d9eef5" stroke="none" stroke-width="1"/>
<rect x="471.84" y="417.42" width="9.49" height="9.4" fill="#e6f4f3" stroke="none" stroke-width="1"/>
<rect x="481.33" y="417.42" width="9.49" height="9.4" fill="#d9eef5" stroke="none" stroke-width="1"/>
<rect x="490.82" y="417.42" width="9.49" height="9.4" fill="#d9eef5" stroke="none" stroke-width="1"/>
<rect x="405.38" y="426.82" width="9.49" height="9.4" fill="#e7f4ea" stroke="none" stroke-width="1"/>
<rect x="433.86" y="426.82" width="9.49" height="9.4" fill="#e6f4f3" stroke="none" stroke-width="1"/>
<rect x="443.35" y="426.82" width="9.49" height="9.4" fill="#d9eef5" stroke="none" stroke-width="1"/>
<rect x="490.82" y="426.82" width="9.49" height="9.4" fill="#e7f4ea" stroke="none" stroke-width="1"/>
<rect x="405.38" y="436.22" width="9.49" height="9.4" fill="#e7f4ea" stroke="none" stroke-width="1"/>
<rect x="443.35" y="436.22" width="9.49" height="9.4" fill="#d9eef5" stroke="none" stroke-width="1"/>
<rect x="490.82" y="436.22" width="9.49" height="9.4" fill="#e7f4ea" stroke="none" stroke-width="1"/>
<rect x="433.86" y="445.63" width="9.49" height="9.4" fill="#aed8ea" stroke="none" stroke-width="1"/>
<rect x="443.35" y="445.63" width="9.49" height="9.4" fill="#c6e4f0" stroke="none" stroke-width="1"/>
<rect x="433.86" y="455.03" width="9.49" height="9.4" fill="#c6e4f0" stroke="none" stroke-width="1"/>
<rect x="433.86" y="464.43" width="9.49" height="9.4" fill="#c6e4f0" stroke="none" stroke-width="1"/>
<rect x="471.84" y="473.84" width="9.49" height="9.4" fill="#c6e4f0" stroke="none" stroke-width="1"/>
<rect x="509.81" y="473.84" width="9.49" height="9.4" fill="#c6e4f0" stroke="none" stroke-width="1"/>
<rect x="367.4" y="483.24" width="9.49" height="9.4" fill="#fdd288" stroke="none" stroke-width="1"/>
<rect x="414.87" y="483.24" width="9.49" height="9.4" fill="#fdc476" stroke="none" stroke-width="1"/>
<rect x="490.82" y="502.05" width="9.49" height="9.4" fill="#d9eef5" stroke="none" stroke-width="1"/>
<rect x="367.4" y="511.45" width="9.49" height="9.4" fill="#fee69c" stroke="none" stroke-width="1"/>
<rect x="433.86" y="539.66" width="9.49" height="9.4" fill="#fdb465" stroke="none" stroke-width="1"/>
<rect x="509.81" y="539.66" width="9.49" height="9.4" fill="#fdb465" stroke="none" stroke-width="1"/>
<rect x="433.86" y="549.06" width="9.49" height="9.4" fill="#fdc476" stroke="none" stroke-width="1"/>
<rect x="367.4" y="558.46" width="9.49" height="9.4" fill="#98cbe3" stroke="none" stroke-width="1"/>
<rect x="386.39" y="558.46" width="9.49" height="9.4" fill="#5f96c9" stroke="none" stroke-width="1"/>
<rect x="395.88" y="558.46" width="9.49" height="9.4" fill="#aed8ea" stroke="none" stroke-width="1"/>
<rect x="405.38" y="558.46" width="9.49" height="9.4" fill="#98cbe3" stroke="none" stroke-width="1"/>
<rect x="414.87" y="558.46" width="9.49" height="9.4" fill="#98cbe3" stroke="none" stroke-width="1"/>
<rect x="433.86" y="558.46" width="9.49" height="9.4" fill="#7fb3d8" stroke="none" stroke-width="1"/>
<rect x="443.35" y="558.46" width="9.49" height="9.4" fill="#98cbe3" stroke="none" stroke-width="1"/>
<rect x="452.85" y="558.46" width="9.49" height="9.4" fill="#aed8ea" stroke="none" stroke-width="1"/>
<rect x="462.34" y="558.46" width="9.49" height="9.4" fill="#aed8ea" stroke="none" stroke-width="1"/>
<rect x="471.84" y="558.46" width="9.49" height="9.4" fill="#aed8ea" stroke="none" stroke-width="1"/>
<rect x="490.82" y="558.46" width="9.49" height="9.4" fill="#98cbe3" stroke="none" stroke-width="1"/>
<rect x="500.32" y="558.46" width="9.49" height="9.4" fill="#aed8ea" stroke="none" stroke-width="1"/>
<rect x="509.81" y="558.46" width="9.49" height="9.4" fill="#98cbe3" stroke="none" stroke-width="1"/>
<rect x="367.4" y="567.87" width="9.49" height="9.4" fill="#c6e4f0" stroke="none" stroke-width="1"/>
<rect x="395.88" y="567.87" width="9.49" height="9.4" fill="#c6e4f0" stroke="none" stroke-width="1"/>
<rect x="405.38" y="567.87" width="9.49" height="9.4" fill="#c6e4f0" stroke="none" stroke-width="1"/>
<rect x="414.87" y="567.87" width="9.49" height="9.4" fill="#c6e4f0" stroke="none" stroke-width="1"/>
<rect x="433.86" y="567.87" width="9.49" height="9.4" fill="#aed8ea" stroke="none" stroke-width="1"/>
<rect x="443.35" y="567.87" width="9.49" height="9.4" fill="#aed8ea" stroke="none" stroke-width="1"/>
<rect x="452.85" y="567.87" width="9.49" height="9.4" fill="#c6e4f0" stroke="none" stroke-width="1"/>
<rect x="462.34" y="567.87" width="9.49" height="9.4" fill="#c6e4f0" stroke="none" stroke-width="1"/>
<rect x="471.84" y="567.87" width="9.49" height="9.4" fill="#c6e4f0" stroke="none" stroke-width="1"/>
<rect x="481.33" y="567.87" width="9.49" height="9.4" fill="#c6e4f0" stroke="none" stroke-width="1"/>
<rect x="490.82" y="567.87" width="9.49" height="9.4" fill="#c6e4f0" stroke="none" stroke-width="1"/>
<rect x="509.81" y="567.87" width="9.49" height="9.4" fill="#c6e4f0" stroke="none" stroke-width="1"/>
<rect x="367.4" y="577.27" width="9.49" height="9.4" fill="#e7f4ea" stroke="none" stroke-width="1"/>
<rect x="376.89" y="577.27" width="9.49" height="9.4" fill="#e7f4ea" stroke="none" stroke-width="1"/>
<rect x="386.39" y="577.27" width="9.49" height="9.4" fill="#c6e4f0" stroke="none" stroke-width="1"/>
<rect x="395.88" y="577.27" width="9.49" height="9.4" fill="#e7f4ea" stroke="none" stroke-width="1"/>
<rect x="405.38" y="577.27" width="9.49" height="9.4" fill="#e7f4ea" stroke="none" stroke-width="1"/>
<rect x="414.87" y="577.27" width="9.49" height="9.4" fill="#ecf6e2" stroke="none" stroke-width="1"/>
<rect x="424.36" y="577.27" width="9.49" height="9.4" fill="#d9eef5" stroke="none" stroke-width="1"/>
<rect x="433.86" y="577.27" width="9.49" height="9.4" fill="#e7f4ea" stroke="none" stroke-width="1"/>
<rect x="452.85" y="577.27" width="9.49" height="9.4" fill="#e7f4ea" stroke="none" stroke-width="1"/>
<rect x="462.34" y="577.27" width="9.49" height="9.4" fill="#e7f4ea" stroke="none" stroke-width="1"/>
<rect x="471.84" y="577.27" width="9.49" height="9.4" fill="#e7f4ea" stroke="none" stroke-width="1"/>
<rect x="490.82" y="577.27" width="9.49" height="9.4" fill="#e6f4f3" stroke="none" stroke-width="1"/>
<rect x="367.4" y="586.67" width="9.49" height="9.4" fill="#c6e4f0" stroke="none" stroke-width="1"/>
<rect x="405.38" y="586.67" width="9.49" height="9.4" fill="#c6e4f0" stroke="none" stroke-width="1"/>
<rect x="433.86" y="586.67" width="9.49" height="9.4" fill="#aed8ea" stroke="none" stroke-width="1"/>
<rect x="443.35" y="586.67" width="9.49" height="9.4" fill="#c6e4f0" stroke="none" stroke-width="1"/>
<rect x="452.85" y="586.67" width="9.49" height="9.4" fill="#c6e4f0" stroke="none" stroke-width="1"/>
<rect x="462.34" y="586.67" width="9.49" height="9.4" fill="#c6e4f0" stroke="none" stroke-width="1"/>
<rect x="490.82" y="586.67" width="9.49" height="9.4" fill="#c6e4f0" stroke="none" stroke-width="1"/>
<rect x="500.32" y="586.67" width="9.49" height="9.4" fill="#c6e4f0" stroke="none" stroke-width="1"/>
<rect x="509.81" y="586.67" width="9.49" height="9.4" fill="#c6e4f0" stroke="none" stroke-width="1"/>
<rect x="367.4" y="596.08" width="9.49" height="9.4" fill="#d9eef5" stroke="none" stroke-width="1"/>
<rect x="405.38" y="596.08" width="9.49" height="9.4" fill="#d9eef5" stroke="none" stroke-width="1"/>
<rect x="433.86" y="596.08" width="9.49" height="9.4" fill="#d9eef5" stroke="none" stroke-width="1"/>
<rect x="443.35" y="596.08" width="9.49" height="9.4" fill="#c6e4f0" stroke="none" stroke-width="1"/>
<rect x="462.34" y="596.08" width="9.49" height="9.4" fill="#d9eef5" stroke="none" stroke-width="1"/>
<rect x="490.82" y="596.08" width="9.49" height="9.4" fill="#d9eef5" stroke="none" stroke-width="1"/>
<rect x="500.32" y="596.08" width="9.49" height="9.4" fill="#d9eef5" stroke="none" stroke-width="1"/>
<rect x="367.4" y="605.48" width="9.49" height="9.4" fill="#c6e4f0" stroke="none" stroke-width="1"/>
<rect x="405.38" y="605.48" width="9.49" height="9.4" fill="#c6e4f0" stroke="none" stroke-width="1"/>
<rect x="433.86" y="605.48" width="9.49" height="9.4" fill="#c6e4f0" stroke="none" stroke-width="1"/>
<rect x="443.35" y="605.48" width="9.49" height="9.4" fill="#c6e4f0" stroke="none" stroke-width="1"/>
<rect x="462.34" y="605.48" width="9.49" height="9.4" fill="#c6e4f0" stroke="none" stroke-width="1"/>
<rect x="481.33" y="605.48" width="9.49" height="9.4" fill="#c6e4f0" stroke="none" stroke-width="1"/>
<rect x="490.82" y="605.48" width="9.49" height="9.4" fill="#c6e4f0" stroke="none" stroke-width="1"/>
<rect x="367.4" y="614.88" width="9.49" height="9.4" fill="#c6e4f0" stroke="none" stroke-width="1"/>
<rect x="395.88" y="614.88" width="9.49" height="9.4" fill="#d9eef5" stroke="none" stroke-width="1"/>
<rect x="405.38" y="614.88" width="9.49" height="9.4" fill="#c6e4f0" stroke="none" stroke-width="1"/>
<rect x="433.86" y="614.88" width="9.49" height="9.4" fill="#c6e4f0" stroke="none" stroke-width="1"/>
<rect x="443.35" y="614.88" width="9.49" height="9.4" fill="#c6e4f0" stroke="none" stroke-width="1"/>
<rect x="462.34" y="614.88" width="9.49" height="9.4" fill="#c6e4f0" stroke="none" stroke-width="1"/>
<rect x="471.84" y="614.88" width="9.49" height="9.4" fill="#c6e4f0" stroke="none" stroke-width="1"/>
<rect x="481.33" y="614.88" width="9.49" height="9.4" fill="#c6e4f0" stroke="none" stroke-width="1"/>
<rect x="490.82" y="614.88" width="9.49" height="9.4" fill="#c6e4f0" stroke="none" stroke-width="1"/>
<rect x="509.81" y="614.88" width="9.49" height="9.4" fill="#d9eef5" stroke="none" stroke-width="1"/>
<rect x="519.31" y="624.29" width="9.49" height="9.4" fill="#c6e4f0" stroke="none" stroke-width="1"/>
<rect x="519.31" y="633.69" width="9.49" height="9.4" fill="#7fb3d8" stroke="none" stroke-width="1"/>
<rect x="519.31" y="643.09" width="9.49" height="9.4" fill="#6da4d0" stroke="none" stroke-width="1"/>
<rect x="519.31" y="652.5" width="9.49" height="9.4" fill="#6da4d0" stroke="none" stroke-width="1"/>
<path d="M367.4 370.4V661.9M376.89 370.4V661.9M386.39 370.4V661.9M395.88 370.4V661.9M405.38 370.4V661.9M414.87 370.4V661.9M424.36 370.4V661.9M433.86 370.4V661.9M443.35 370.4V661.9M452.85 370.4V661.9M462.34 370.4V661.9M471.84 370.4V661.9M481.33 370.4V661.9M490.82 370.4V661.9M500.32 370.4V661.9M509.81 370.4V661.9M519.31 370.4V661.9M528.8 370.4V661.9M367.4 370.4H528.8M367.4 379.8H528.8M367.4 389.21H528.8M367.4 398.61H528.8M367.4 408.01H528.8M367.4 417.42H528.8M367.4 426.82H528.8M367.4 436.22H528.8M367.4 445.63H528.8M367.4 455.03H528.8M367.4 464.43H528.8M367.4 473.84H528.8M367.4 483.24H528.8M367.4 492.64H528.8M367.4 502.05H528.8M367.4 511.45H528.8M367.4 520.85H528.8M367.4 530.25H528.8M367.4 539.66H528.8M367.4 549.06H528.8M367.4 558.46H528.8M367.4 567.87H528.8M367.4 577.27H528.8M367.4 586.67H528.8M367.4 596.08H528.8M367.4 605.48H528.8M367.4 614.88H528.8M367.4 624.29H528.8M367.4 633.69H528.8M367.4 643.09H528.8M367.4 652.5H528.8M367.4 661.9H528.8" stroke="#9c9c9c" stroke-width="0.95" fill="none" stroke-linecap="square"/>
<g font-size="9.4" fill="#000">
<text x="531" y="378.4">ADMA</text>
<text x="531" y="387.8">CTP</text>
<text x="531" y="397.21">GTP</text>
<text x="531" y="406.61">NADH/NAD</text>
<text x="531" y="416.01">Creatine</text>
<text x="531" y="425.42">Proline-OH</text>
<text x="531" y="434.82">Malic acid</text>
<text x="531" y="444.22">Threonine</text>
<text x="531" y="453.63">C16:2</text>
<text x="531" y="463.03">C14:2</text>
<text x="531" y="472.43">C20:4</text>
<text x="531" y="481.84">Methylmalonylcarnitine</text>
<text x="531" y="491.24">Cytidine</text>
<text x="531" y="500.64">Citruline</text>
<text x="531" y="510.05">C15</text>
<text x="531" y="519.45">Cytosine</text>
<text x="531" y="528.85">C16:OH</text>
<text x="531" y="538.26">C18:OH</text>
<text x="531" y="547.66">ADP/ATP</text>
<text x="531" y="557.06">Glucose</text>
<text x="531" y="566.47">UTP</text>
<text x="531" y="575.87">C18:2</text>
<text x="531" y="585.27">α-ketoglutarate</text>
<text x="531" y="594.68">ATP</text>
<text x="531" y="604.08">Formyl-valine</text>
<text x="531" y="613.48">C16:1</text>
<text x="531" y="622.89">C18:1</text>
<text class="dj" font-size="8.95" x="531" y="632.29">Choline</text>
<text class="dj" font-size="8.95" x="531" y="641.69">Adenine</text>
<text class="dj" font-size="8.95" x="531" y="651.1">C3</text>
<text class="dj" font-size="8.95" x="531" y="660.5">6-Phosphoglucuronic acid</text>
</g><g font-size="9.4" fill="#000">
<text transform="translate(368.65 665.6) rotate(90)">Multimorbid [18/35]</text>
<text transform="translate(378.14 665.6) rotate(90)">w/o Anaemia [18/25]</text>
<text transform="translate(387.64 665.6) rotate(90)">w/o Angina [13/7]</text>
<text transform="translate(397.13 665.6) rotate(90)">w/o Asthma [18/34]</text>
<text transform="translate(406.62 665.6) rotate(90)">w/o Cancer [18/34]</text>
<text transform="translate(416.12 665.6) rotate(90)">w/o COPD [17/28]</text>
<text transform="translate(425.61 665.6) rotate(90)">w/o Stroke [17/31]</text>
<text transform="translate(435.11 665.6) rotate(90)">w/o Diabetes [16/21]</text>
<text transform="translate(444.6 665.6) rotate(90)">w/o Extr. arteriopathy [18/28]</text>
<text transform="translate(454.09 665.6) rotate(90)">w/o Heart failure [18/29]</text>
<text transform="translate(463.59 665.6) rotate(90)">w/o Hyperlipidemia [18/32]</text>
<text transform="translate(473.08 665.6) rotate(90)">w/o Hypertension [18/30]</text>
<text transform="translate(482.58 665.6) rotate(90)">w/o Obese [16/26]</text>
<text transform="translate(492.07 665.6) rotate(90)">w/o Renal diseae [18/32]</text>
<text transform="translate(501.56 665.6) rotate(90)">Systems multimorbidity [26/27]</text>
<text transform="translate(511.06 665.6) rotate(90)">w/o Diabetic med. [17/26]</text>
<text transform="translate(520.55 665.6) rotate(90)">w/o Statins [3/4]</text>
</g>
<rect x="554.9" y="679.7" width="8.4" height="2.56" fill="#b81326" stroke="none" stroke-width="1"/>
<rect x="554.9" y="681.96" width="8.4" height="2.56" fill="#c21b27" stroke="none" stroke-width="1"/>
<rect x="554.9" y="684.22" width="8.4" height="2.56" fill="#ca2427" stroke="none" stroke-width="1"/>
<rect x="554.9" y="686.49" width="8.4" height="2.56" fill="#d42d27" stroke="none" stroke-width="1"/>
<rect x="554.9" y="688.75" width="8.4" height="2.56" fill="#da372a" stroke="none" stroke-width="1"/>
<rect x="554.9" y="691.01" width="8.4" height="2.56" fill="#df422f" stroke="none" stroke-width="1"/>
<rect x="554.9" y="693.27" width="8.4" height="2.56" fill="#e54d34" stroke="none" stroke-width="1"/>
<rect x="554.9" y="695.53" width="8.4" height="2.56" fill="#ea5839" stroke="none" stroke-width="1"/>
<rect x="554.9" y="697.8" width="8.4" height="2.56" fill="#ef633e" stroke="none" stroke-width="1"/>
<rect x="554.9" y="700.06" width="8.4" height="2.56" fill="#f46e43" stroke="none" stroke-width="1"/>
<rect x="554.9" y="702.32" width="8.4" height="2.56" fill="#f67949" stroke="none" stroke-width="1"/>
<rect x="554.9" y="704.58" width="8.4" height="2.56" fill="#f7854e" stroke="none" stroke-width="1"/>
<rect x="554.9" y="706.84" width="8.4" height="2.56" fill="#f99154" stroke="none" stroke-width="1"/>
<rect x="554.9" y="709.11" width="8.4" height="2.56" fill="#fb9c59" stroke="none" stroke-width="1"/>
<rect x="554.9" y="711.37" width="8.4" height="2.56" fill="#fca85e" stroke="none" stroke-width="1"/>
<rect x="554.9" y="713.63" width="8.4" height="2.56" fill="#fdb365" stroke="none" stroke-width="1"/>
<rect x="554.9" y="715.89" width="8.4" height="2.56" fill="#fdbb6e" stroke="none" stroke-width="1"/>
<rect x="554.9" y="718.15" width="8.4" height="2.56" fill="#fdc476" stroke="none" stroke-width="1"/>
<rect x="554.9" y="720.42" width="8.4" height="2.56" fill="#fece7f" stroke="none" stroke-width="1"/>
<rect x="554.9" y="722.68" width="8.4" height="2.56" fill="#fed687" stroke="none" stroke-width="1"/>
<rect x="554.9" y="724.94" width="8.4" height="2.56" fill="#fee090" stroke="none" stroke-width="1"/>
<rect x="554.9" y="727.2" width="8.4" height="2.56" fill="#fee598" stroke="none" stroke-width="1"/>
<rect x="554.9" y="729.46" width="8.4" height="2.56" fill="#feeba0" stroke="none" stroke-width="1"/>
<rect x="554.9" y="731.73" width="8.4" height="2.56" fill="#fff0a9" stroke="none" stroke-width="1"/>
<rect x="554.9" y="733.99" width="8.4" height="2.56" fill="#fff6b1" stroke="none" stroke-width="1"/>
<rect x="554.9" y="736.25" width="8.4" height="2.56" fill="#fffcba" stroke="none" stroke-width="1"/>
<rect x="554.9" y="738.51" width="8.4" height="2.56" fill="#fdfec3" stroke="none" stroke-width="1"/>
<rect x="554.9" y="740.77" width="8.4" height="2.56" fill="#f7fccd" stroke="none" stroke-width="1"/>
<rect x="554.9" y="743.04" width="8.4" height="2.56" fill="#f2fad8" stroke="none" stroke-width="1"/>
<rect x="554.9" y="745.3" width="8.4" height="2.56" fill="#ecf8e2" stroke="none" stroke-width="1"/>
<rect x="554.9" y="747.56" width="8.4" height="2.56" fill="#e7f6ec" stroke="none" stroke-width="1"/>
<rect x="554.9" y="749.82" width="8.4" height="2.56" fill="#e1f3f6" stroke="none" stroke-width="1"/>
<rect x="554.9" y="752.08" width="8.4" height="2.56" fill="#d8eff6" stroke="none" stroke-width="1"/>
<rect x="554.9" y="754.35" width="8.4" height="2.56" fill="#cfeaf3" stroke="none" stroke-width="1"/>
<rect x="554.9" y="756.61" width="8.4" height="2.56" fill="#c5e6f0" stroke="none" stroke-width="1"/>
<rect x="554.9" y="758.87" width="8.4" height="2.56" fill="#bbe1ee" stroke="none" stroke-width="1"/>
<rect x="554.9" y="761.13" width="8.4" height="2.56" fill="#b2dceb" stroke="none" stroke-width="1"/>
<rect x="554.9" y="763.39" width="8.4" height="2.56" fill="#a8d7e8" stroke="none" stroke-width="1"/>
<rect x="554.9" y="765.66" width="8.4" height="2.56" fill="#9ecfe3" stroke="none" stroke-width="1"/>
<rect x="554.9" y="767.92" width="8.4" height="2.56" fill="#94c7df" stroke="none" stroke-width="1"/>
<rect x="554.9" y="770.18" width="8.4" height="2.56" fill="#8bbfdb" stroke="none" stroke-width="1"/>
<rect x="554.9" y="772.44" width="8.4" height="2.56" fill="#81b7d7" stroke="none" stroke-width="1"/>
<rect x="554.9" y="774.7" width="8.4" height="2.56" fill="#77afd2" stroke="none" stroke-width="1"/>
<rect x="554.9" y="776.97" width="8.4" height="2.56" fill="#6ea6cd" stroke="none" stroke-width="1"/>
<rect x="554.9" y="779.23" width="8.4" height="2.56" fill="#659cc8" stroke="none" stroke-width="1"/>
<rect x="554.9" y="781.49" width="8.4" height="2.56" fill="#5d92c3" stroke="none" stroke-width="1"/>
<rect x="554.9" y="783.75" width="8.4" height="2.56" fill="#5587be" stroke="none" stroke-width="1"/>
<rect x="554.9" y="786.01" width="8.4" height="2.56" fill="#4c7db8" stroke="none" stroke-width="1"/>
<rect x="554.9" y="788.28" width="8.4" height="2.56" fill="#4473b3" stroke="none" stroke-width="1"/>
<rect x="554.9" y="790.54" width="8.4" height="2.56" fill="#4168ad" stroke="none" stroke-width="1"/>
<g font-size="7.4" fill="#000">
<text x="566.2" y="685.3">1.5</text>
<text x="566.2" y="703.2">1</text>
<text x="566.2" y="721.1">0.5</text>
<text x="566.2" y="739">0</text>
<text x="566.2" y="756.8">−0.5</text>
<text x="566.2" y="774.7">−1</text>
<text x="566.2" y="792.5">−1.5</text>
</g>
<text x="-0.2" y="15.7" font-size="23.2" fill="#000" text-anchor="start">A</text>
<text x="-1.7" y="363.7" font-size="23.2" fill="#000" text-anchor="start">B</text>
<text x="349" y="15.9" font-size="23.2" fill="#000" text-anchor="start">C</text>
<text x="348.4" y="370.4" font-size="23.2" fill="#000" text-anchor="start">D</text>
</svg></body></html>
